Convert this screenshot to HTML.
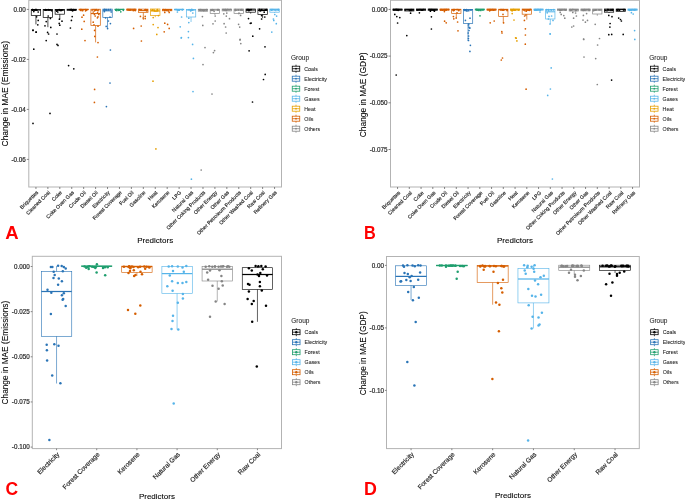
<!DOCTYPE html>
<html><head><meta charset="utf-8"><style>
html,body{margin:0;padding:0;background:#fff;}
svg{display:block;will-change:transform;}
text{font-family:"Liberation Sans", sans-serif;}
</style></head><body>
<svg width="685" height="500" viewBox="0 0 685 500">
<rect width="685" height="500" fill="#fff"/>
<rect x="28.80" y="0.30" width="252.70" height="186.70" stroke="#b3b3b3" stroke-width="1" fill="none"/>
<line x1="26.80" y1="9.40" x2="28.80" y2="9.40" stroke="#555" stroke-width="0.7"/>
<text x="25.80" y="11.61" font-size="6.3" fill="#2a2a2a" stroke="#2a2a2a" stroke-width="0.2" text-anchor="end" font-weight="normal" >0.00</text>
<line x1="26.80" y1="59.40" x2="28.80" y2="59.40" stroke="#555" stroke-width="0.7"/>
<text x="25.80" y="61.60" font-size="6.3" fill="#2a2a2a" stroke="#2a2a2a" stroke-width="0.2" text-anchor="end" font-weight="normal" >-0.02</text>
<line x1="26.80" y1="109.40" x2="28.80" y2="109.40" stroke="#555" stroke-width="0.7"/>
<text x="25.80" y="111.61" font-size="6.3" fill="#2a2a2a" stroke="#2a2a2a" stroke-width="0.2" text-anchor="end" font-weight="normal" >-0.04</text>
<line x1="26.80" y1="159.40" x2="28.80" y2="159.40" stroke="#555" stroke-width="0.7"/>
<text x="25.80" y="161.61" font-size="6.3" fill="#2a2a2a" stroke="#2a2a2a" stroke-width="0.2" text-anchor="end" font-weight="normal" >-0.06</text>
<line x1="35.95" y1="187.00" x2="35.95" y2="189.00" stroke="#555" stroke-width="0.7"/>
<text transform="translate(38.55,192.90) rotate(-45)" font-size="5.2" fill="#2a2a2a" stroke="#2a2a2a" stroke-width="0.18" text-anchor="end">Briquettes</text>
<line x1="47.88" y1="187.00" x2="47.88" y2="189.00" stroke="#555" stroke-width="0.7"/>
<text transform="translate(50.48,192.90) rotate(-45)" font-size="5.2" fill="#2a2a2a" stroke="#2a2a2a" stroke-width="0.18" text-anchor="end">Cleaned Coal</text>
<line x1="59.81" y1="187.00" x2="59.81" y2="189.00" stroke="#555" stroke-width="0.7"/>
<text transform="translate(62.41,192.90) rotate(-45)" font-size="5.2" fill="#2a2a2a" stroke="#2a2a2a" stroke-width="0.18" text-anchor="end">Coke</text>
<line x1="71.74" y1="187.00" x2="71.74" y2="189.00" stroke="#555" stroke-width="0.7"/>
<text transform="translate(74.34,192.90) rotate(-45)" font-size="5.2" fill="#2a2a2a" stroke="#2a2a2a" stroke-width="0.18" text-anchor="end">Coke Oven Gas</text>
<line x1="83.67" y1="187.00" x2="83.67" y2="189.00" stroke="#555" stroke-width="0.7"/>
<text transform="translate(86.27,192.90) rotate(-45)" font-size="5.2" fill="#2a2a2a" stroke="#2a2a2a" stroke-width="0.18" text-anchor="end">Crude Oil</text>
<line x1="95.60" y1="187.00" x2="95.60" y2="189.00" stroke="#555" stroke-width="0.7"/>
<text transform="translate(98.20,192.90) rotate(-45)" font-size="5.2" fill="#2a2a2a" stroke="#2a2a2a" stroke-width="0.18" text-anchor="end">Diesel Oil</text>
<line x1="107.53" y1="187.00" x2="107.53" y2="189.00" stroke="#555" stroke-width="0.7"/>
<text transform="translate(110.13,192.90) rotate(-45)" font-size="5.2" fill="#2a2a2a" stroke="#2a2a2a" stroke-width="0.18" text-anchor="end">Electricity</text>
<line x1="119.46" y1="187.00" x2="119.46" y2="189.00" stroke="#555" stroke-width="0.7"/>
<text transform="translate(122.06,192.90) rotate(-45)" font-size="5.2" fill="#2a2a2a" stroke="#2a2a2a" stroke-width="0.18" text-anchor="end">Forest Coverage</text>
<line x1="131.39" y1="187.00" x2="131.39" y2="189.00" stroke="#555" stroke-width="0.7"/>
<text transform="translate(133.99,192.90) rotate(-45)" font-size="5.2" fill="#2a2a2a" stroke="#2a2a2a" stroke-width="0.18" text-anchor="end">Fuel Oil</text>
<line x1="143.32" y1="187.00" x2="143.32" y2="189.00" stroke="#555" stroke-width="0.7"/>
<text transform="translate(145.92,192.90) rotate(-45)" font-size="5.2" fill="#2a2a2a" stroke="#2a2a2a" stroke-width="0.18" text-anchor="end">Gasoline</text>
<line x1="155.25" y1="187.00" x2="155.25" y2="189.00" stroke="#555" stroke-width="0.7"/>
<text transform="translate(157.85,192.90) rotate(-45)" font-size="5.2" fill="#2a2a2a" stroke="#2a2a2a" stroke-width="0.18" text-anchor="end">Heat</text>
<line x1="167.18" y1="187.00" x2="167.18" y2="189.00" stroke="#555" stroke-width="0.7"/>
<text transform="translate(169.78,192.90) rotate(-45)" font-size="5.2" fill="#2a2a2a" stroke="#2a2a2a" stroke-width="0.18" text-anchor="end">Kerosene</text>
<line x1="179.11" y1="187.00" x2="179.11" y2="189.00" stroke="#555" stroke-width="0.7"/>
<text transform="translate(181.71,192.90) rotate(-45)" font-size="5.2" fill="#2a2a2a" stroke="#2a2a2a" stroke-width="0.18" text-anchor="end">LPG</text>
<line x1="191.04" y1="187.00" x2="191.04" y2="189.00" stroke="#555" stroke-width="0.7"/>
<text transform="translate(193.64,192.90) rotate(-45)" font-size="5.2" fill="#2a2a2a" stroke="#2a2a2a" stroke-width="0.18" text-anchor="end">Natural Gas</text>
<line x1="202.97" y1="187.00" x2="202.97" y2="189.00" stroke="#555" stroke-width="0.7"/>
<text transform="translate(205.57,192.90) rotate(-45)" font-size="5.2" fill="#2a2a2a" stroke="#2a2a2a" stroke-width="0.18" text-anchor="end">Other Coking Products</text>
<line x1="214.90" y1="187.00" x2="214.90" y2="189.00" stroke="#555" stroke-width="0.7"/>
<text transform="translate(217.50,192.90) rotate(-45)" font-size="5.2" fill="#2a2a2a" stroke="#2a2a2a" stroke-width="0.18" text-anchor="end">Other Energy</text>
<line x1="226.83" y1="187.00" x2="226.83" y2="189.00" stroke="#555" stroke-width="0.7"/>
<text transform="translate(229.43,192.90) rotate(-45)" font-size="5.2" fill="#2a2a2a" stroke="#2a2a2a" stroke-width="0.18" text-anchor="end">Other Gas</text>
<line x1="238.76" y1="187.00" x2="238.76" y2="189.00" stroke="#555" stroke-width="0.7"/>
<text transform="translate(241.36,192.90) rotate(-45)" font-size="5.2" fill="#2a2a2a" stroke="#2a2a2a" stroke-width="0.18" text-anchor="end">Other Petroleum Products</text>
<line x1="250.69" y1="187.00" x2="250.69" y2="189.00" stroke="#555" stroke-width="0.7"/>
<text transform="translate(253.29,192.90) rotate(-45)" font-size="5.2" fill="#2a2a2a" stroke="#2a2a2a" stroke-width="0.18" text-anchor="end">Other Washed Coal</text>
<line x1="262.62" y1="187.00" x2="262.62" y2="189.00" stroke="#555" stroke-width="0.7"/>
<text transform="translate(265.22,192.90) rotate(-45)" font-size="5.2" fill="#2a2a2a" stroke="#2a2a2a" stroke-width="0.18" text-anchor="end">Raw Coal</text>
<line x1="274.55" y1="187.00" x2="274.55" y2="189.00" stroke="#555" stroke-width="0.7"/>
<text transform="translate(277.15,192.90) rotate(-45)" font-size="5.2" fill="#2a2a2a" stroke="#2a2a2a" stroke-width="0.18" text-anchor="end">Refinery Gas</text>
<line x1="35.95" y1="15.60" x2="35.95" y2="24.40" stroke="#000000" stroke-width="0.7"/>
<rect x="31.25" y="9.60" width="9.40" height="6.00" stroke="#000000" stroke-width="0.7" fill="none"/>
<line x1="31.25" y1="10.00" x2="40.65" y2="10.00" stroke="#000000" stroke-width="1.0499999999999998"/>
<circle cx="34.56" cy="10.01" r="0.85" fill="#000000"/>
<circle cx="32.58" cy="10.21" r="0.85" fill="#000000"/>
<circle cx="36.23" cy="9.64" r="0.85" fill="#000000"/>
<circle cx="36.01" cy="9.65" r="0.85" fill="#000000"/>
<circle cx="32.31" cy="9.71" r="0.85" fill="#000000"/>
<circle cx="32.73" cy="9.59" r="0.85" fill="#000000"/>
<circle cx="35.36" cy="9.64" r="0.85" fill="#000000"/>
<circle cx="33.77" cy="9.77" r="0.85" fill="#000000"/>
<circle cx="36.95" cy="10.25" r="0.85" fill="#000000"/>
<circle cx="35.14" cy="9.75" r="0.85" fill="#000000"/>
<line x1="47.88" y1="17.40" x2="47.88" y2="27.20" stroke="#000000" stroke-width="0.7"/>
<rect x="43.18" y="9.60" width="9.40" height="7.80" stroke="#000000" stroke-width="0.7" fill="none"/>
<line x1="43.18" y1="10.00" x2="52.58" y2="10.00" stroke="#000000" stroke-width="1.0499999999999998"/>
<circle cx="51.63" cy="10.64" r="0.85" fill="#000000"/>
<circle cx="46.22" cy="9.84" r="0.85" fill="#000000"/>
<circle cx="45.08" cy="9.88" r="0.85" fill="#000000"/>
<circle cx="50.37" cy="9.85" r="0.85" fill="#000000"/>
<circle cx="45.37" cy="10.25" r="0.85" fill="#000000"/>
<circle cx="46.88" cy="9.92" r="0.85" fill="#000000"/>
<circle cx="48.26" cy="9.69" r="0.85" fill="#000000"/>
<circle cx="45.56" cy="9.58" r="0.85" fill="#000000"/>
<circle cx="49.30" cy="9.97" r="0.85" fill="#000000"/>
<circle cx="48.55" cy="9.73" r="0.85" fill="#000000"/>
<line x1="59.81" y1="14.20" x2="59.81" y2="19.20" stroke="#000000" stroke-width="0.7"/>
<rect x="55.11" y="9.40" width="9.40" height="4.80" stroke="#000000" stroke-width="0.7" fill="none"/>
<line x1="55.11" y1="10.00" x2="64.51" y2="10.00" stroke="#000000" stroke-width="1.0499999999999998"/>
<circle cx="59.44" cy="9.83" r="0.85" fill="#000000"/>
<circle cx="61.38" cy="10.52" r="0.85" fill="#000000"/>
<circle cx="57.80" cy="10.15" r="0.85" fill="#000000"/>
<circle cx="62.76" cy="9.83" r="0.85" fill="#000000"/>
<circle cx="61.62" cy="9.90" r="0.85" fill="#000000"/>
<circle cx="56.80" cy="11.13" r="0.85" fill="#000000"/>
<circle cx="59.17" cy="9.52" r="0.85" fill="#000000"/>
<circle cx="59.72" cy="9.84" r="0.85" fill="#000000"/>
<circle cx="56.18" cy="10.00" r="0.85" fill="#000000"/>
<circle cx="60.38" cy="10.39" r="0.85" fill="#000000"/>
<line x1="71.74" y1="10.40" x2="71.74" y2="10.80" stroke="#000000" stroke-width="0.7"/>
<rect x="67.04" y="9.20" width="9.40" height="1.20" stroke="#000000" stroke-width="0.7" fill="none"/>
<line x1="67.04" y1="9.60" x2="76.44" y2="9.60" stroke="#000000" stroke-width="1.0499999999999998"/>
<circle cx="74.70" cy="9.86" r="0.85" fill="#000000"/>
<circle cx="72.48" cy="10.35" r="0.85" fill="#000000"/>
<circle cx="72.37" cy="10.61" r="0.85" fill="#000000"/>
<circle cx="75.24" cy="9.81" r="0.85" fill="#000000"/>
<circle cx="71.54" cy="9.61" r="0.85" fill="#000000"/>
<circle cx="73.33" cy="9.68" r="0.85" fill="#000000"/>
<circle cx="72.90" cy="10.61" r="0.85" fill="#000000"/>
<circle cx="70.04" cy="9.55" r="0.85" fill="#000000"/>
<circle cx="70.84" cy="9.56" r="0.85" fill="#000000"/>
<circle cx="71.44" cy="9.61" r="0.85" fill="#000000"/>
<line x1="83.67" y1="9.80" x2="83.67" y2="10.00" stroke="#d55e00" stroke-width="0.7"/>
<rect x="78.97" y="9.20" width="9.40" height="0.60" stroke="#d55e00" stroke-width="0.7" fill="none"/>
<line x1="78.97" y1="9.40" x2="88.37" y2="9.40" stroke="#d55e00" stroke-width="1.0499999999999998"/>
<circle cx="81.06" cy="9.66" r="0.85" fill="#d55e00"/>
<circle cx="85.78" cy="9.64" r="0.85" fill="#d55e00"/>
<circle cx="80.75" cy="9.51" r="0.85" fill="#d55e00"/>
<circle cx="86.59" cy="10.10" r="0.85" fill="#d55e00"/>
<circle cx="80.37" cy="10.22" r="0.85" fill="#d55e00"/>
<circle cx="86.69" cy="9.74" r="0.85" fill="#d55e00"/>
<circle cx="86.18" cy="9.82" r="0.85" fill="#d55e00"/>
<circle cx="83.00" cy="9.87" r="0.85" fill="#d55e00"/>
<circle cx="82.56" cy="10.63" r="0.85" fill="#d55e00"/>
<circle cx="80.92" cy="10.50" r="0.85" fill="#d55e00"/>
<line x1="95.60" y1="25.50" x2="95.60" y2="42.40" stroke="#d55e00" stroke-width="0.7"/>
<rect x="90.90" y="9.20" width="9.40" height="16.30" stroke="#d55e00" stroke-width="0.7" fill="none"/>
<line x1="90.90" y1="13.60" x2="100.30" y2="13.60" stroke="#d55e00" stroke-width="1.0499999999999998"/>
<circle cx="93.05" cy="9.55" r="0.85" fill="#d55e00"/>
<circle cx="95.48" cy="9.93" r="0.85" fill="#d55e00"/>
<circle cx="96.30" cy="9.50" r="0.85" fill="#d55e00"/>
<circle cx="94.96" cy="9.55" r="0.85" fill="#d55e00"/>
<circle cx="94.57" cy="10.86" r="0.85" fill="#d55e00"/>
<circle cx="97.10" cy="10.10" r="0.85" fill="#d55e00"/>
<circle cx="95.72" cy="10.17" r="0.85" fill="#d55e00"/>
<circle cx="92.09" cy="10.11" r="0.85" fill="#d55e00"/>
<circle cx="98.75" cy="9.73" r="0.85" fill="#d55e00"/>
<circle cx="97.95" cy="10.70" r="0.85" fill="#d55e00"/>
<line x1="107.53" y1="17.40" x2="107.53" y2="28.80" stroke="#2a74b6" stroke-width="0.7"/>
<rect x="102.83" y="9.10" width="9.40" height="8.30" stroke="#2a74b6" stroke-width="0.7" fill="none"/>
<line x1="102.83" y1="10.80" x2="112.23" y2="10.80" stroke="#2a74b6" stroke-width="1.0499999999999998"/>
<circle cx="106.68" cy="9.73" r="0.85" fill="#2a74b6"/>
<circle cx="108.59" cy="9.67" r="0.85" fill="#2a74b6"/>
<circle cx="104.08" cy="9.87" r="0.85" fill="#2a74b6"/>
<circle cx="104.87" cy="9.67" r="0.85" fill="#2a74b6"/>
<circle cx="106.27" cy="9.51" r="0.85" fill="#2a74b6"/>
<circle cx="104.78" cy="9.50" r="0.85" fill="#2a74b6"/>
<circle cx="104.39" cy="9.59" r="0.85" fill="#2a74b6"/>
<circle cx="110.48" cy="9.60" r="0.85" fill="#2a74b6"/>
<circle cx="108.43" cy="9.77" r="0.85" fill="#2a74b6"/>
<circle cx="106.33" cy="9.87" r="0.85" fill="#2a74b6"/>
<line x1="119.46" y1="9.60" x2="119.46" y2="9.80" stroke="#1f9e6e" stroke-width="0.7"/>
<rect x="114.76" y="9.20" width="9.40" height="0.40" stroke="#1f9e6e" stroke-width="0.7" fill="none"/>
<line x1="114.76" y1="9.40" x2="124.16" y2="9.40" stroke="#1f9e6e" stroke-width="1.0499999999999998"/>
<circle cx="118.39" cy="10.34" r="0.85" fill="#1f9e6e"/>
<circle cx="123.34" cy="10.31" r="0.85" fill="#1f9e6e"/>
<circle cx="119.19" cy="9.75" r="0.85" fill="#1f9e6e"/>
<circle cx="116.33" cy="9.53" r="0.85" fill="#1f9e6e"/>
<circle cx="118.22" cy="9.60" r="0.85" fill="#1f9e6e"/>
<circle cx="116.79" cy="10.62" r="0.85" fill="#1f9e6e"/>
<circle cx="115.70" cy="10.20" r="0.85" fill="#1f9e6e"/>
<circle cx="116.68" cy="9.72" r="0.85" fill="#1f9e6e"/>
<circle cx="119.80" cy="10.22" r="0.85" fill="#1f9e6e"/>
<circle cx="123.23" cy="9.62" r="0.85" fill="#1f9e6e"/>
<line x1="131.39" y1="10.60" x2="131.39" y2="10.80" stroke="#d55e00" stroke-width="0.7"/>
<rect x="126.69" y="9.00" width="9.40" height="1.60" stroke="#d55e00" stroke-width="0.7" fill="none"/>
<line x1="126.69" y1="9.40" x2="136.09" y2="9.40" stroke="#d55e00" stroke-width="1.0499999999999998"/>
<circle cx="134.25" cy="9.65" r="0.85" fill="#d55e00"/>
<circle cx="130.34" cy="9.94" r="0.85" fill="#d55e00"/>
<circle cx="128.77" cy="9.60" r="0.85" fill="#d55e00"/>
<circle cx="133.59" cy="10.23" r="0.85" fill="#d55e00"/>
<circle cx="130.05" cy="9.68" r="0.85" fill="#d55e00"/>
<circle cx="135.21" cy="10.58" r="0.85" fill="#d55e00"/>
<circle cx="134.17" cy="9.88" r="0.85" fill="#d55e00"/>
<circle cx="133.28" cy="10.54" r="0.85" fill="#d55e00"/>
<circle cx="129.24" cy="10.06" r="0.85" fill="#d55e00"/>
<circle cx="127.68" cy="9.56" r="0.85" fill="#d55e00"/>
<line x1="143.32" y1="12.60" x2="143.32" y2="20.00" stroke="#d55e00" stroke-width="0.7"/>
<rect x="138.62" y="9.10" width="9.40" height="3.50" stroke="#d55e00" stroke-width="0.7" fill="none"/>
<line x1="138.62" y1="10.60" x2="148.02" y2="10.60" stroke="#d55e00" stroke-width="1.0499999999999998"/>
<circle cx="139.60" cy="9.59" r="0.85" fill="#d55e00"/>
<circle cx="144.84" cy="9.96" r="0.85" fill="#d55e00"/>
<circle cx="146.91" cy="10.83" r="0.85" fill="#d55e00"/>
<circle cx="147.16" cy="9.96" r="0.85" fill="#d55e00"/>
<circle cx="146.90" cy="9.78" r="0.85" fill="#d55e00"/>
<circle cx="141.17" cy="9.82" r="0.85" fill="#d55e00"/>
<circle cx="140.93" cy="9.74" r="0.85" fill="#d55e00"/>
<circle cx="146.47" cy="10.31" r="0.85" fill="#d55e00"/>
<circle cx="146.00" cy="10.37" r="0.85" fill="#d55e00"/>
<circle cx="145.68" cy="9.61" r="0.85" fill="#d55e00"/>
<line x1="155.25" y1="15.50" x2="155.25" y2="17.20" stroke="#e69f00" stroke-width="0.7"/>
<rect x="150.55" y="9.00" width="9.40" height="6.50" stroke="#e69f00" stroke-width="0.7" fill="none"/>
<line x1="150.55" y1="11.00" x2="159.95" y2="11.00" stroke="#e69f00" stroke-width="1.0499999999999998"/>
<circle cx="151.98" cy="10.20" r="0.85" fill="#e69f00"/>
<circle cx="157.47" cy="10.61" r="0.85" fill="#e69f00"/>
<circle cx="157.22" cy="9.87" r="0.85" fill="#e69f00"/>
<circle cx="157.53" cy="9.55" r="0.85" fill="#e69f00"/>
<circle cx="153.93" cy="10.00" r="0.85" fill="#e69f00"/>
<circle cx="154.43" cy="11.02" r="0.85" fill="#e69f00"/>
<circle cx="154.47" cy="10.41" r="0.85" fill="#e69f00"/>
<circle cx="152.65" cy="9.82" r="0.85" fill="#e69f00"/>
<circle cx="152.31" cy="10.26" r="0.85" fill="#e69f00"/>
<circle cx="157.66" cy="10.56" r="0.85" fill="#e69f00"/>
<line x1="167.18" y1="10.80" x2="167.18" y2="11.00" stroke="#d55e00" stroke-width="0.7"/>
<rect x="162.48" y="9.20" width="9.40" height="1.60" stroke="#d55e00" stroke-width="0.7" fill="none"/>
<line x1="162.48" y1="9.60" x2="171.88" y2="9.60" stroke="#d55e00" stroke-width="1.0499999999999998"/>
<circle cx="164.39" cy="10.28" r="0.85" fill="#d55e00"/>
<circle cx="168.42" cy="10.99" r="0.85" fill="#d55e00"/>
<circle cx="166.00" cy="9.80" r="0.85" fill="#d55e00"/>
<circle cx="163.36" cy="9.60" r="0.85" fill="#d55e00"/>
<circle cx="170.89" cy="9.93" r="0.85" fill="#d55e00"/>
<circle cx="170.59" cy="10.09" r="0.85" fill="#d55e00"/>
<circle cx="166.66" cy="10.28" r="0.85" fill="#d55e00"/>
<circle cx="164.90" cy="10.31" r="0.85" fill="#d55e00"/>
<circle cx="165.23" cy="9.62" r="0.85" fill="#d55e00"/>
<circle cx="167.86" cy="9.93" r="0.85" fill="#d55e00"/>
<line x1="179.11" y1="9.80" x2="179.11" y2="10.00" stroke="#56b4e9" stroke-width="0.7"/>
<rect x="174.41" y="9.20" width="9.40" height="0.60" stroke="#56b4e9" stroke-width="0.7" fill="none"/>
<line x1="174.41" y1="9.40" x2="183.81" y2="9.40" stroke="#56b4e9" stroke-width="1.0499999999999998"/>
<circle cx="177.22" cy="9.78" r="0.85" fill="#56b4e9"/>
<circle cx="182.34" cy="9.65" r="0.85" fill="#56b4e9"/>
<circle cx="177.96" cy="10.27" r="0.85" fill="#56b4e9"/>
<circle cx="182.29" cy="9.71" r="0.85" fill="#56b4e9"/>
<circle cx="178.49" cy="10.12" r="0.85" fill="#56b4e9"/>
<circle cx="179.36" cy="9.85" r="0.85" fill="#56b4e9"/>
<circle cx="179.30" cy="10.14" r="0.85" fill="#56b4e9"/>
<circle cx="176.61" cy="9.58" r="0.85" fill="#56b4e9"/>
<circle cx="175.20" cy="9.61" r="0.85" fill="#56b4e9"/>
<circle cx="178.90" cy="9.85" r="0.85" fill="#56b4e9"/>
<line x1="191.04" y1="17.00" x2="191.04" y2="22.00" stroke="#56b4e9" stroke-width="0.7"/>
<rect x="186.34" y="9.40" width="9.40" height="7.60" stroke="#56b4e9" stroke-width="0.7" fill="none"/>
<line x1="186.34" y1="10.00" x2="195.74" y2="10.00" stroke="#56b4e9" stroke-width="1.0499999999999998"/>
<circle cx="192.81" cy="10.00" r="0.85" fill="#56b4e9"/>
<circle cx="191.18" cy="9.69" r="0.85" fill="#56b4e9"/>
<circle cx="191.48" cy="9.56" r="0.85" fill="#56b4e9"/>
<circle cx="191.51" cy="9.78" r="0.85" fill="#56b4e9"/>
<circle cx="189.06" cy="9.67" r="0.85" fill="#56b4e9"/>
<circle cx="191.10" cy="10.52" r="0.85" fill="#56b4e9"/>
<circle cx="191.53" cy="9.58" r="0.85" fill="#56b4e9"/>
<circle cx="190.59" cy="10.82" r="0.85" fill="#56b4e9"/>
<circle cx="191.93" cy="10.22" r="0.85" fill="#56b4e9"/>
<circle cx="192.56" cy="9.53" r="0.85" fill="#56b4e9"/>
<line x1="202.97" y1="11.20" x2="202.97" y2="11.40" stroke="#858585" stroke-width="0.7"/>
<rect x="198.27" y="9.20" width="9.40" height="2.00" stroke="#858585" stroke-width="0.7" fill="none"/>
<line x1="198.27" y1="9.60" x2="207.67" y2="9.60" stroke="#858585" stroke-width="1.0499999999999998"/>
<circle cx="202.59" cy="10.17" r="0.85" fill="#858585"/>
<circle cx="206.45" cy="9.64" r="0.85" fill="#858585"/>
<circle cx="204.54" cy="10.52" r="0.85" fill="#858585"/>
<circle cx="201.08" cy="10.50" r="0.85" fill="#858585"/>
<circle cx="203.44" cy="10.58" r="0.85" fill="#858585"/>
<circle cx="200.11" cy="9.90" r="0.85" fill="#858585"/>
<circle cx="199.99" cy="9.72" r="0.85" fill="#858585"/>
<circle cx="200.93" cy="9.58" r="0.85" fill="#858585"/>
<circle cx="199.61" cy="10.01" r="0.85" fill="#858585"/>
<circle cx="206.10" cy="10.42" r="0.85" fill="#858585"/>
<line x1="214.90" y1="13.40" x2="214.90" y2="15.00" stroke="#858585" stroke-width="0.7"/>
<rect x="210.20" y="9.20" width="9.40" height="4.20" stroke="#858585" stroke-width="0.7" fill="none"/>
<line x1="210.20" y1="10.00" x2="219.60" y2="10.00" stroke="#858585" stroke-width="1.0499999999999998"/>
<circle cx="212.18" cy="9.69" r="0.85" fill="#858585"/>
<circle cx="212.09" cy="10.36" r="0.85" fill="#858585"/>
<circle cx="217.91" cy="9.91" r="0.85" fill="#858585"/>
<circle cx="218.46" cy="9.59" r="0.85" fill="#858585"/>
<circle cx="214.10" cy="11.31" r="0.85" fill="#858585"/>
<circle cx="217.52" cy="9.65" r="0.85" fill="#858585"/>
<circle cx="212.23" cy="10.16" r="0.85" fill="#858585"/>
<circle cx="213.63" cy="9.80" r="0.85" fill="#858585"/>
<circle cx="212.50" cy="9.90" r="0.85" fill="#858585"/>
<circle cx="211.12" cy="10.37" r="0.85" fill="#858585"/>
<line x1="226.83" y1="10.90" x2="226.83" y2="11.00" stroke="#858585" stroke-width="0.7"/>
<rect x="222.13" y="9.00" width="9.40" height="1.90" stroke="#858585" stroke-width="0.7" fill="none"/>
<line x1="222.13" y1="9.60" x2="231.53" y2="9.60" stroke="#858585" stroke-width="1.0499999999999998"/>
<circle cx="227.26" cy="9.61" r="0.85" fill="#858585"/>
<circle cx="225.50" cy="9.54" r="0.85" fill="#858585"/>
<circle cx="227.81" cy="9.72" r="0.85" fill="#858585"/>
<circle cx="230.65" cy="9.52" r="0.85" fill="#858585"/>
<circle cx="229.10" cy="9.78" r="0.85" fill="#858585"/>
<circle cx="224.98" cy="9.55" r="0.85" fill="#858585"/>
<circle cx="223.20" cy="9.59" r="0.85" fill="#858585"/>
<circle cx="223.91" cy="9.97" r="0.85" fill="#858585"/>
<circle cx="226.22" cy="10.44" r="0.85" fill="#858585"/>
<circle cx="224.93" cy="10.09" r="0.85" fill="#858585"/>
<line x1="238.76" y1="13.60" x2="238.76" y2="14.50" stroke="#858585" stroke-width="0.7"/>
<rect x="234.06" y="9.00" width="9.40" height="4.60" stroke="#858585" stroke-width="0.7" fill="none"/>
<line x1="234.06" y1="10.00" x2="243.46" y2="10.00" stroke="#858585" stroke-width="1.0499999999999998"/>
<circle cx="236.00" cy="10.18" r="0.85" fill="#858585"/>
<circle cx="240.34" cy="9.88" r="0.85" fill="#858585"/>
<circle cx="235.53" cy="10.36" r="0.85" fill="#858585"/>
<circle cx="238.17" cy="9.82" r="0.85" fill="#858585"/>
<circle cx="235.39" cy="10.29" r="0.85" fill="#858585"/>
<circle cx="241.13" cy="9.82" r="0.85" fill="#858585"/>
<circle cx="235.48" cy="9.64" r="0.85" fill="#858585"/>
<circle cx="241.62" cy="9.67" r="0.85" fill="#858585"/>
<circle cx="238.40" cy="9.90" r="0.85" fill="#858585"/>
<circle cx="242.12" cy="10.15" r="0.85" fill="#858585"/>
<line x1="250.69" y1="12.20" x2="250.69" y2="13.60" stroke="#000000" stroke-width="0.7"/>
<rect x="245.99" y="9.00" width="9.40" height="3.20" stroke="#000000" stroke-width="0.7" fill="none"/>
<line x1="245.99" y1="10.00" x2="255.39" y2="10.00" stroke="#000000" stroke-width="1.0499999999999998"/>
<circle cx="248.86" cy="10.01" r="0.85" fill="#000000"/>
<circle cx="248.63" cy="10.03" r="0.85" fill="#000000"/>
<circle cx="247.61" cy="9.60" r="0.85" fill="#000000"/>
<circle cx="248.34" cy="9.66" r="0.85" fill="#000000"/>
<circle cx="249.21" cy="9.84" r="0.85" fill="#000000"/>
<circle cx="249.04" cy="10.45" r="0.85" fill="#000000"/>
<circle cx="250.69" cy="9.74" r="0.85" fill="#000000"/>
<circle cx="246.90" cy="10.00" r="0.85" fill="#000000"/>
<circle cx="248.73" cy="10.47" r="0.85" fill="#000000"/>
<circle cx="251.09" cy="9.59" r="0.85" fill="#000000"/>
<line x1="262.62" y1="14.50" x2="262.62" y2="18.10" stroke="#000000" stroke-width="0.7"/>
<rect x="257.92" y="9.00" width="9.40" height="5.50" stroke="#000000" stroke-width="0.7" fill="none"/>
<line x1="257.92" y1="10.40" x2="267.32" y2="10.40" stroke="#000000" stroke-width="1.0499999999999998"/>
<circle cx="260.17" cy="10.88" r="0.85" fill="#000000"/>
<circle cx="259.52" cy="9.72" r="0.85" fill="#000000"/>
<circle cx="265.13" cy="10.14" r="0.85" fill="#000000"/>
<circle cx="265.25" cy="9.79" r="0.85" fill="#000000"/>
<circle cx="261.78" cy="10.41" r="0.85" fill="#000000"/>
<circle cx="266.42" cy="9.54" r="0.85" fill="#000000"/>
<circle cx="261.38" cy="9.96" r="0.85" fill="#000000"/>
<circle cx="263.69" cy="10.32" r="0.85" fill="#000000"/>
<circle cx="261.87" cy="9.62" r="0.85" fill="#000000"/>
<circle cx="259.71" cy="9.66" r="0.85" fill="#000000"/>
<line x1="274.55" y1="12.20" x2="274.55" y2="13.00" stroke="#56b4e9" stroke-width="0.7"/>
<rect x="269.85" y="9.00" width="9.40" height="3.20" stroke="#56b4e9" stroke-width="0.7" fill="none"/>
<line x1="269.85" y1="9.60" x2="279.25" y2="9.60" stroke="#56b4e9" stroke-width="1.0499999999999998"/>
<circle cx="271.17" cy="9.53" r="0.85" fill="#56b4e9"/>
<circle cx="271.90" cy="9.96" r="0.85" fill="#56b4e9"/>
<circle cx="271.28" cy="10.16" r="0.85" fill="#56b4e9"/>
<circle cx="275.89" cy="10.52" r="0.85" fill="#56b4e9"/>
<circle cx="272.83" cy="9.52" r="0.85" fill="#56b4e9"/>
<circle cx="274.23" cy="10.00" r="0.85" fill="#56b4e9"/>
<circle cx="271.85" cy="9.94" r="0.85" fill="#56b4e9"/>
<circle cx="278.19" cy="9.66" r="0.85" fill="#56b4e9"/>
<circle cx="278.27" cy="9.93" r="0.85" fill="#56b4e9"/>
<circle cx="278.22" cy="9.63" r="0.85" fill="#56b4e9"/>
<circle cx="33.80" cy="11.60" r="0.85" fill="#000000"/>
<circle cx="38.20" cy="12.00" r="0.85" fill="#000000"/>
<circle cx="36.60" cy="16.80" r="0.85" fill="#000000"/>
<circle cx="38.20" cy="20.40" r="0.85" fill="#000000"/>
<circle cx="37.80" cy="24.80" r="0.85" fill="#000000"/>
<circle cx="33.00" cy="30.20" r="0.85" fill="#000000"/>
<circle cx="36.20" cy="32.20" r="0.85" fill="#000000"/>
<circle cx="33.00" cy="30.40" r="0.85" fill="#000000"/>
<circle cx="36.00" cy="32.00" r="0.85" fill="#000000"/>
<circle cx="33.80" cy="49.20" r="0.85" fill="#000000"/>
<circle cx="33.00" cy="123.40" r="0.85" fill="#000000"/>
<circle cx="48.20" cy="16.00" r="0.85" fill="#000000"/>
<circle cx="50.40" cy="18.40" r="0.85" fill="#000000"/>
<circle cx="46.20" cy="21.60" r="0.85" fill="#000000"/>
<circle cx="45.00" cy="25.80" r="0.85" fill="#000000"/>
<circle cx="50.80" cy="27.40" r="0.85" fill="#000000"/>
<circle cx="47.60" cy="32.40" r="0.85" fill="#000000"/>
<circle cx="48.60" cy="34.00" r="0.85" fill="#000000"/>
<circle cx="46.20" cy="40.60" r="0.85" fill="#000000"/>
<circle cx="50.00" cy="113.40" r="0.85" fill="#000000"/>
<circle cx="57.80" cy="12.00" r="0.85" fill="#000000"/>
<circle cx="59.40" cy="19.20" r="0.85" fill="#000000"/>
<circle cx="62.00" cy="21.20" r="0.85" fill="#000000"/>
<circle cx="59.20" cy="23.40" r="0.85" fill="#000000"/>
<circle cx="59.80" cy="25.20" r="0.85" fill="#000000"/>
<circle cx="57.00" cy="34.00" r="0.85" fill="#000000"/>
<circle cx="57.00" cy="44.40" r="0.85" fill="#000000"/>
<circle cx="58.00" cy="45.40" r="0.85" fill="#000000"/>
<circle cx="72.20" cy="16.60" r="0.85" fill="#000000"/>
<circle cx="71.40" cy="20.40" r="0.85" fill="#000000"/>
<circle cx="70.40" cy="28.00" r="0.85" fill="#000000"/>
<circle cx="68.60" cy="65.60" r="0.85" fill="#000000"/>
<circle cx="73.80" cy="68.80" r="0.85" fill="#000000"/>
<circle cx="85.60" cy="10.80" r="0.85" fill="#d55e00"/>
<circle cx="83.60" cy="15.20" r="0.85" fill="#d55e00"/>
<circle cx="82.00" cy="17.20" r="0.85" fill="#d55e00"/>
<circle cx="84.20" cy="21.40" r="0.85" fill="#d55e00"/>
<circle cx="81.80" cy="29.20" r="0.85" fill="#d55e00"/>
<circle cx="93.20" cy="12.00" r="0.85" fill="#d55e00"/>
<circle cx="97.60" cy="12.80" r="0.85" fill="#d55e00"/>
<circle cx="94.40" cy="14.40" r="0.85" fill="#d55e00"/>
<circle cx="98.80" cy="14.40" r="0.85" fill="#d55e00"/>
<circle cx="95.20" cy="16.00" r="0.85" fill="#d55e00"/>
<circle cx="98.00" cy="16.80" r="0.85" fill="#d55e00"/>
<circle cx="97.40" cy="17.80" r="0.85" fill="#d55e00"/>
<circle cx="93.20" cy="22.20" r="0.85" fill="#d55e00"/>
<circle cx="94.00" cy="24.80" r="0.85" fill="#d55e00"/>
<circle cx="98.00" cy="26.20" r="0.85" fill="#d55e00"/>
<circle cx="94.60" cy="30.40" r="0.85" fill="#d55e00"/>
<circle cx="94.80" cy="36.40" r="0.85" fill="#d55e00"/>
<circle cx="85.00" cy="40.60" r="0.85" fill="#d55e00"/>
<circle cx="98.00" cy="42.60" r="0.85" fill="#d55e00"/>
<circle cx="97.40" cy="57.00" r="0.85" fill="#d55e00"/>
<circle cx="94.60" cy="89.40" r="0.85" fill="#d55e00"/>
<circle cx="94.40" cy="102.40" r="0.85" fill="#d55e00"/>
<circle cx="104.40" cy="11.60" r="0.85" fill="#2a74b6"/>
<circle cx="111.20" cy="12.00" r="0.85" fill="#2a74b6"/>
<circle cx="105.60" cy="17.80" r="0.85" fill="#2a74b6"/>
<circle cx="110.00" cy="17.20" r="0.85" fill="#2a74b6"/>
<circle cx="108.40" cy="21.00" r="0.85" fill="#2a74b6"/>
<circle cx="110.40" cy="23.60" r="0.85" fill="#2a74b6"/>
<circle cx="106.20" cy="26.40" r="0.85" fill="#2a74b6"/>
<circle cx="107.60" cy="28.60" r="0.85" fill="#2a74b6"/>
<circle cx="110.40" cy="50.00" r="0.85" fill="#2a74b6"/>
<circle cx="110.00" cy="83.00" r="0.85" fill="#2a74b6"/>
<circle cx="106.40" cy="106.60" r="0.85" fill="#2a74b6"/>
<circle cx="120.80" cy="11.80" r="0.85" fill="#1f9e6e"/>
<circle cx="133.60" cy="28.40" r="0.85" fill="#d55e00"/>
<circle cx="140.40" cy="16.40" r="0.85" fill="#d55e00"/>
<circle cx="145.20" cy="16.40" r="0.85" fill="#d55e00"/>
<circle cx="143.20" cy="18.00" r="0.85" fill="#d55e00"/>
<circle cx="145.20" cy="18.60" r="0.85" fill="#d55e00"/>
<circle cx="141.20" cy="26.00" r="0.85" fill="#d55e00"/>
<circle cx="141.40" cy="41.00" r="0.85" fill="#d55e00"/>
<circle cx="156.00" cy="11.20" r="0.85" fill="#e69f00"/>
<circle cx="158.40" cy="15.60" r="0.85" fill="#e69f00"/>
<circle cx="153.20" cy="17.60" r="0.85" fill="#e69f00"/>
<circle cx="153.20" cy="24.60" r="0.85" fill="#e69f00"/>
<circle cx="158.00" cy="27.60" r="0.85" fill="#e69f00"/>
<circle cx="156.80" cy="34.40" r="0.85" fill="#e69f00"/>
<circle cx="153.00" cy="81.20" r="0.85" fill="#e69f00"/>
<circle cx="155.90" cy="148.90" r="0.85" fill="#e69f00"/>
<circle cx="164.80" cy="12.40" r="0.85" fill="#d55e00"/>
<circle cx="169.20" cy="12.40" r="0.85" fill="#d55e00"/>
<circle cx="164.80" cy="23.20" r="0.85" fill="#d55e00"/>
<circle cx="167.60" cy="24.40" r="0.85" fill="#d55e00"/>
<circle cx="169.20" cy="28.40" r="0.85" fill="#d55e00"/>
<circle cx="164.20" cy="31.80" r="0.85" fill="#d55e00"/>
<circle cx="177.40" cy="12.00" r="0.85" fill="#56b4e9"/>
<circle cx="181.60" cy="17.00" r="0.85" fill="#56b4e9"/>
<circle cx="180.20" cy="26.80" r="0.85" fill="#56b4e9"/>
<circle cx="181.40" cy="37.60" r="0.85" fill="#56b4e9"/>
<circle cx="181.20" cy="38.00" r="0.85" fill="#56b4e9"/>
<circle cx="192.80" cy="13.00" r="0.85" fill="#56b4e9"/>
<circle cx="188.80" cy="18.20" r="0.85" fill="#56b4e9"/>
<circle cx="188.80" cy="22.60" r="0.85" fill="#56b4e9"/>
<circle cx="188.40" cy="31.60" r="0.85" fill="#56b4e9"/>
<circle cx="188.40" cy="37.60" r="0.85" fill="#56b4e9"/>
<circle cx="192.60" cy="44.40" r="0.85" fill="#56b4e9"/>
<circle cx="193.40" cy="58.40" r="0.85" fill="#56b4e9"/>
<circle cx="193.00" cy="91.60" r="0.85" fill="#56b4e9"/>
<circle cx="191.40" cy="179.20" r="0.85" fill="#56b4e9"/>
<circle cx="202.40" cy="16.60" r="0.85" fill="#858585"/>
<circle cx="202.80" cy="25.40" r="0.85" fill="#858585"/>
<circle cx="205.00" cy="47.60" r="0.85" fill="#858585"/>
<circle cx="203.00" cy="64.60" r="0.85" fill="#858585"/>
<circle cx="201.20" cy="170.00" r="0.85" fill="#858585"/>
<circle cx="215.20" cy="16.00" r="0.85" fill="#858585"/>
<circle cx="215.20" cy="21.00" r="0.85" fill="#858585"/>
<circle cx="213.00" cy="23.80" r="0.85" fill="#858585"/>
<circle cx="214.60" cy="50.60" r="0.85" fill="#858585"/>
<circle cx="213.40" cy="52.60" r="0.85" fill="#858585"/>
<circle cx="212.00" cy="94.00" r="0.85" fill="#858585"/>
<circle cx="223.80" cy="13.80" r="0.85" fill="#858585"/>
<circle cx="226.80" cy="13.10" r="0.85" fill="#858585"/>
<circle cx="226.30" cy="16.10" r="0.85" fill="#858585"/>
<circle cx="229.50" cy="18.70" r="0.85" fill="#858585"/>
<circle cx="224.10" cy="23.70" r="0.85" fill="#858585"/>
<circle cx="225.60" cy="27.00" r="0.85" fill="#858585"/>
<circle cx="226.20" cy="33.00" r="0.85" fill="#858585"/>
<circle cx="239.00" cy="13.10" r="0.85" fill="#858585"/>
<circle cx="240.60" cy="15.40" r="0.85" fill="#858585"/>
<circle cx="238.60" cy="24.30" r="0.85" fill="#858585"/>
<circle cx="239.70" cy="27.10" r="0.85" fill="#858585"/>
<circle cx="240.10" cy="39.40" r="0.85" fill="#858585"/>
<circle cx="240.00" cy="39.90" r="0.85" fill="#858585"/>
<circle cx="240.80" cy="43.60" r="0.85" fill="#858585"/>
<circle cx="248.50" cy="18.60" r="0.85" fill="#000000"/>
<circle cx="250.30" cy="23.30" r="0.85" fill="#000000"/>
<circle cx="251.20" cy="23.10" r="0.85" fill="#000000"/>
<circle cx="252.80" cy="36.20" r="0.85" fill="#000000"/>
<circle cx="249.10" cy="50.80" r="0.85" fill="#000000"/>
<circle cx="252.50" cy="102.00" r="0.85" fill="#000000"/>
<circle cx="264.20" cy="12.20" r="0.85" fill="#000000"/>
<circle cx="261.60" cy="15.60" r="0.85" fill="#000000"/>
<circle cx="264.80" cy="17.00" r="0.85" fill="#000000"/>
<circle cx="261.60" cy="19.00" r="0.85" fill="#000000"/>
<circle cx="259.60" cy="28.80" r="0.85" fill="#000000"/>
<circle cx="265.00" cy="46.80" r="0.85" fill="#000000"/>
<circle cx="265.20" cy="74.40" r="0.85" fill="#000000"/>
<circle cx="263.50" cy="79.50" r="0.85" fill="#000000"/>
<circle cx="274.80" cy="14.50" r="0.85" fill="#56b4e9"/>
<circle cx="276.60" cy="16.10" r="0.85" fill="#56b4e9"/>
<circle cx="273.40" cy="19.00" r="0.85" fill="#56b4e9"/>
<circle cx="273.80" cy="20.40" r="0.85" fill="#56b4e9"/>
<circle cx="276.30" cy="23.70" r="0.85" fill="#56b4e9"/>
<circle cx="271.80" cy="32.10" r="0.85" fill="#56b4e9"/>
<text transform="translate(8.00,93.70) rotate(-90)" font-size="8.45" fill="#000" stroke="#000" stroke-width="0.08" text-anchor="middle">Change in MAE (Emissions)</text>
<text x="155.15" y="243.00" font-size="8.0" fill="#000" stroke="#000" stroke-width="0.08" text-anchor="middle" font-weight="normal" >Predictors</text>
<text transform="translate(5.30,239.00) scale(1.06,1)" font-size="17.5" fill="#ff0000" font-weight="bold">A</text>
<text x="291.00" y="59.90" font-size="6.5" fill="#1a1a1a" stroke="#1a1a1a" stroke-width="0.05" text-anchor="start" font-weight="normal" >Group</text>
<line x1="296.00" y1="64.70" x2="296.00" y2="66.20" stroke="#000000" stroke-width="0.8"/>
<line x1="296.00" y1="71.20" x2="296.00" y2="72.70" stroke="#000000" stroke-width="0.8"/>
<rect x="292.25" y="66.20" width="7.50" height="5.00" stroke="#000000" stroke-width="0.8" fill="none"/>
<line x1="292.25" y1="68.70" x2="299.75" y2="68.70" stroke="#000000" stroke-width="0.8"/>
<circle cx="296.00" cy="68.70" r="0.85" fill="#000000"/>
<text x="304.30" y="70.85" font-size="5.3" fill="#1a1a1a" stroke="#1a1a1a" stroke-width="0.06" text-anchor="start" font-weight="normal" >Coals</text>
<line x1="296.00" y1="74.70" x2="296.00" y2="76.20" stroke="#2a74b6" stroke-width="0.8"/>
<line x1="296.00" y1="81.20" x2="296.00" y2="82.70" stroke="#2a74b6" stroke-width="0.8"/>
<rect x="292.25" y="76.20" width="7.50" height="5.00" stroke="#2a74b6" stroke-width="0.8" fill="none"/>
<line x1="292.25" y1="78.70" x2="299.75" y2="78.70" stroke="#2a74b6" stroke-width="0.8"/>
<circle cx="296.00" cy="78.70" r="0.85" fill="#2a74b6"/>
<text x="304.30" y="80.85" font-size="5.3" fill="#1a1a1a" stroke="#1a1a1a" stroke-width="0.06" text-anchor="start" font-weight="normal" >Electricity</text>
<line x1="296.00" y1="84.70" x2="296.00" y2="86.20" stroke="#1f9e6e" stroke-width="0.8"/>
<line x1="296.00" y1="91.20" x2="296.00" y2="92.70" stroke="#1f9e6e" stroke-width="0.8"/>
<rect x="292.25" y="86.20" width="7.50" height="5.00" stroke="#1f9e6e" stroke-width="0.8" fill="none"/>
<line x1="292.25" y1="88.70" x2="299.75" y2="88.70" stroke="#1f9e6e" stroke-width="0.8"/>
<circle cx="296.00" cy="88.70" r="0.85" fill="#1f9e6e"/>
<text x="304.30" y="90.85" font-size="5.3" fill="#1a1a1a" stroke="#1a1a1a" stroke-width="0.06" text-anchor="start" font-weight="normal" >Forest</text>
<line x1="296.00" y1="94.70" x2="296.00" y2="96.20" stroke="#56b4e9" stroke-width="0.8"/>
<line x1="296.00" y1="101.20" x2="296.00" y2="102.70" stroke="#56b4e9" stroke-width="0.8"/>
<rect x="292.25" y="96.20" width="7.50" height="5.00" stroke="#56b4e9" stroke-width="0.8" fill="none"/>
<line x1="292.25" y1="98.70" x2="299.75" y2="98.70" stroke="#56b4e9" stroke-width="0.8"/>
<circle cx="296.00" cy="98.70" r="0.85" fill="#56b4e9"/>
<text x="304.30" y="100.85" font-size="5.3" fill="#1a1a1a" stroke="#1a1a1a" stroke-width="0.06" text-anchor="start" font-weight="normal" >Gases</text>
<line x1="296.00" y1="104.70" x2="296.00" y2="106.20" stroke="#e69f00" stroke-width="0.8"/>
<line x1="296.00" y1="111.20" x2="296.00" y2="112.70" stroke="#e69f00" stroke-width="0.8"/>
<rect x="292.25" y="106.20" width="7.50" height="5.00" stroke="#e69f00" stroke-width="0.8" fill="none"/>
<line x1="292.25" y1="108.70" x2="299.75" y2="108.70" stroke="#e69f00" stroke-width="0.8"/>
<circle cx="296.00" cy="108.70" r="0.85" fill="#e69f00"/>
<text x="304.30" y="110.85" font-size="5.3" fill="#1a1a1a" stroke="#1a1a1a" stroke-width="0.06" text-anchor="start" font-weight="normal" >Heat</text>
<line x1="296.00" y1="114.70" x2="296.00" y2="116.20" stroke="#d55e00" stroke-width="0.8"/>
<line x1="296.00" y1="121.20" x2="296.00" y2="122.70" stroke="#d55e00" stroke-width="0.8"/>
<rect x="292.25" y="116.20" width="7.50" height="5.00" stroke="#d55e00" stroke-width="0.8" fill="none"/>
<line x1="292.25" y1="118.70" x2="299.75" y2="118.70" stroke="#d55e00" stroke-width="0.8"/>
<circle cx="296.00" cy="118.70" r="0.85" fill="#d55e00"/>
<text x="304.30" y="120.85" font-size="5.3" fill="#1a1a1a" stroke="#1a1a1a" stroke-width="0.06" text-anchor="start" font-weight="normal" >Oils</text>
<line x1="296.00" y1="124.70" x2="296.00" y2="126.20" stroke="#858585" stroke-width="0.8"/>
<line x1="296.00" y1="131.20" x2="296.00" y2="132.70" stroke="#858585" stroke-width="0.8"/>
<rect x="292.25" y="126.20" width="7.50" height="5.00" stroke="#858585" stroke-width="0.8" fill="none"/>
<line x1="292.25" y1="128.70" x2="299.75" y2="128.70" stroke="#858585" stroke-width="0.8"/>
<circle cx="296.00" cy="128.70" r="0.85" fill="#858585"/>
<text x="304.30" y="130.85" font-size="5.3" fill="#1a1a1a" stroke="#1a1a1a" stroke-width="0.06" text-anchor="start" font-weight="normal" >Others</text>
<rect x="390.50" y="0.30" width="249.00" height="186.70" stroke="#b3b3b3" stroke-width="1" fill="none"/>
<line x1="388.50" y1="9.40" x2="390.50" y2="9.40" stroke="#555" stroke-width="0.7"/>
<text x="387.50" y="11.61" font-size="6.3" fill="#2a2a2a" stroke="#2a2a2a" stroke-width="0.2" text-anchor="end" font-weight="normal" >0.000</text>
<line x1="388.50" y1="56.10" x2="390.50" y2="56.10" stroke="#555" stroke-width="0.7"/>
<text x="387.50" y="58.30" font-size="6.3" fill="#2a2a2a" stroke="#2a2a2a" stroke-width="0.2" text-anchor="end" font-weight="normal" >-0.025</text>
<line x1="388.50" y1="102.80" x2="390.50" y2="102.80" stroke="#555" stroke-width="0.7"/>
<text x="387.50" y="105.00" font-size="6.3" fill="#2a2a2a" stroke="#2a2a2a" stroke-width="0.2" text-anchor="end" font-weight="normal" >-0.050</text>
<line x1="388.50" y1="149.50" x2="390.50" y2="149.50" stroke="#555" stroke-width="0.7"/>
<text x="387.50" y="151.71" font-size="6.3" fill="#2a2a2a" stroke="#2a2a2a" stroke-width="0.2" text-anchor="end" font-weight="normal" >-0.075</text>
<line x1="397.55" y1="187.00" x2="397.55" y2="189.00" stroke="#555" stroke-width="0.7"/>
<text transform="translate(400.55,193.10) rotate(-45)" font-size="5.2" fill="#2a2a2a" stroke="#2a2a2a" stroke-width="0.18" text-anchor="end">Briquettes</text>
<line x1="409.30" y1="187.00" x2="409.30" y2="189.00" stroke="#555" stroke-width="0.7"/>
<text transform="translate(412.30,193.10) rotate(-45)" font-size="5.2" fill="#2a2a2a" stroke="#2a2a2a" stroke-width="0.18" text-anchor="end">Cleaned Coal</text>
<line x1="421.05" y1="187.00" x2="421.05" y2="189.00" stroke="#555" stroke-width="0.7"/>
<text transform="translate(424.05,193.10) rotate(-45)" font-size="5.2" fill="#2a2a2a" stroke="#2a2a2a" stroke-width="0.18" text-anchor="end">Coke</text>
<line x1="432.80" y1="187.00" x2="432.80" y2="189.00" stroke="#555" stroke-width="0.7"/>
<text transform="translate(435.80,193.10) rotate(-45)" font-size="5.2" fill="#2a2a2a" stroke="#2a2a2a" stroke-width="0.18" text-anchor="end">Coke Oven Gas</text>
<line x1="444.55" y1="187.00" x2="444.55" y2="189.00" stroke="#555" stroke-width="0.7"/>
<text transform="translate(447.55,193.10) rotate(-45)" font-size="5.2" fill="#2a2a2a" stroke="#2a2a2a" stroke-width="0.18" text-anchor="end">Crude Oil</text>
<line x1="456.30" y1="187.00" x2="456.30" y2="189.00" stroke="#555" stroke-width="0.7"/>
<text transform="translate(459.30,193.10) rotate(-45)" font-size="5.2" fill="#2a2a2a" stroke="#2a2a2a" stroke-width="0.18" text-anchor="end">Diesel Oil</text>
<line x1="468.05" y1="187.00" x2="468.05" y2="189.00" stroke="#555" stroke-width="0.7"/>
<text transform="translate(471.05,193.10) rotate(-45)" font-size="5.2" fill="#2a2a2a" stroke="#2a2a2a" stroke-width="0.18" text-anchor="end">Electricity</text>
<line x1="479.80" y1="187.00" x2="479.80" y2="189.00" stroke="#555" stroke-width="0.7"/>
<text transform="translate(482.80,193.10) rotate(-45)" font-size="5.2" fill="#2a2a2a" stroke="#2a2a2a" stroke-width="0.18" text-anchor="end">Forest Coverage</text>
<line x1="491.55" y1="187.00" x2="491.55" y2="189.00" stroke="#555" stroke-width="0.7"/>
<text transform="translate(494.55,193.10) rotate(-45)" font-size="5.2" fill="#2a2a2a" stroke="#2a2a2a" stroke-width="0.18" text-anchor="end">Fuel Oil</text>
<line x1="503.30" y1="187.00" x2="503.30" y2="189.00" stroke="#555" stroke-width="0.7"/>
<text transform="translate(506.30,193.10) rotate(-45)" font-size="5.2" fill="#2a2a2a" stroke="#2a2a2a" stroke-width="0.18" text-anchor="end">Gasoline</text>
<line x1="515.05" y1="187.00" x2="515.05" y2="189.00" stroke="#555" stroke-width="0.7"/>
<text transform="translate(518.05,193.10) rotate(-45)" font-size="5.2" fill="#2a2a2a" stroke="#2a2a2a" stroke-width="0.18" text-anchor="end">Heat</text>
<line x1="526.80" y1="187.00" x2="526.80" y2="189.00" stroke="#555" stroke-width="0.7"/>
<text transform="translate(529.80,193.10) rotate(-45)" font-size="5.2" fill="#2a2a2a" stroke="#2a2a2a" stroke-width="0.18" text-anchor="end">Kerosene</text>
<line x1="538.55" y1="187.00" x2="538.55" y2="189.00" stroke="#555" stroke-width="0.7"/>
<text transform="translate(541.55,193.10) rotate(-45)" font-size="5.2" fill="#2a2a2a" stroke="#2a2a2a" stroke-width="0.18" text-anchor="end">LPG</text>
<line x1="550.30" y1="187.00" x2="550.30" y2="189.00" stroke="#555" stroke-width="0.7"/>
<text transform="translate(553.30,193.10) rotate(-45)" font-size="5.2" fill="#2a2a2a" stroke="#2a2a2a" stroke-width="0.18" text-anchor="end">Natural Gas</text>
<line x1="562.05" y1="187.00" x2="562.05" y2="189.00" stroke="#555" stroke-width="0.7"/>
<text transform="translate(565.05,193.10) rotate(-45)" font-size="5.2" fill="#2a2a2a" stroke="#2a2a2a" stroke-width="0.18" text-anchor="end">Other Coking Products</text>
<line x1="573.80" y1="187.00" x2="573.80" y2="189.00" stroke="#555" stroke-width="0.7"/>
<text transform="translate(576.80,193.10) rotate(-45)" font-size="5.2" fill="#2a2a2a" stroke="#2a2a2a" stroke-width="0.18" text-anchor="end">Other Energy</text>
<line x1="585.55" y1="187.00" x2="585.55" y2="189.00" stroke="#555" stroke-width="0.7"/>
<text transform="translate(588.55,193.10) rotate(-45)" font-size="5.2" fill="#2a2a2a" stroke="#2a2a2a" stroke-width="0.18" text-anchor="end">Other Gas</text>
<line x1="597.30" y1="187.00" x2="597.30" y2="189.00" stroke="#555" stroke-width="0.7"/>
<text transform="translate(600.30,193.10) rotate(-45)" font-size="5.2" fill="#2a2a2a" stroke="#2a2a2a" stroke-width="0.18" text-anchor="end">Other Petroleum Products</text>
<line x1="609.05" y1="187.00" x2="609.05" y2="189.00" stroke="#555" stroke-width="0.7"/>
<text transform="translate(612.05,193.10) rotate(-45)" font-size="5.2" fill="#2a2a2a" stroke="#2a2a2a" stroke-width="0.18" text-anchor="end">Other Washed Coal</text>
<line x1="620.80" y1="187.00" x2="620.80" y2="189.00" stroke="#555" stroke-width="0.7"/>
<text transform="translate(623.80,193.10) rotate(-45)" font-size="5.2" fill="#2a2a2a" stroke="#2a2a2a" stroke-width="0.18" text-anchor="end">Raw Coal</text>
<line x1="632.55" y1="187.00" x2="632.55" y2="189.00" stroke="#555" stroke-width="0.7"/>
<text transform="translate(635.55,193.10) rotate(-45)" font-size="5.2" fill="#2a2a2a" stroke="#2a2a2a" stroke-width="0.18" text-anchor="end">Refinery Gas</text>
<line x1="397.55" y1="10.60" x2="397.55" y2="10.80" stroke="#000000" stroke-width="0.7"/>
<rect x="392.90" y="9.00" width="9.30" height="1.60" stroke="#000000" stroke-width="0.7" fill="none"/>
<line x1="392.90" y1="9.40" x2="402.20" y2="9.40" stroke="#000000" stroke-width="1.0499999999999998"/>
<circle cx="396.07" cy="9.51" r="0.85" fill="#000000"/>
<circle cx="396.63" cy="9.52" r="0.85" fill="#000000"/>
<circle cx="397.35" cy="9.83" r="0.85" fill="#000000"/>
<circle cx="397.59" cy="9.51" r="0.85" fill="#000000"/>
<circle cx="393.71" cy="9.52" r="0.85" fill="#000000"/>
<circle cx="396.77" cy="9.72" r="0.85" fill="#000000"/>
<circle cx="394.00" cy="9.92" r="0.85" fill="#000000"/>
<circle cx="395.48" cy="9.56" r="0.85" fill="#000000"/>
<circle cx="398.21" cy="10.32" r="0.85" fill="#000000"/>
<circle cx="398.77" cy="9.65" r="0.85" fill="#000000"/>
<line x1="409.30" y1="11.00" x2="409.30" y2="11.20" stroke="#000000" stroke-width="0.7"/>
<rect x="404.65" y="9.00" width="9.30" height="2.00" stroke="#000000" stroke-width="0.7" fill="none"/>
<line x1="404.65" y1="9.60" x2="413.95" y2="9.60" stroke="#000000" stroke-width="1.0499999999999998"/>
<circle cx="410.98" cy="9.86" r="0.85" fill="#000000"/>
<circle cx="407.95" cy="9.84" r="0.85" fill="#000000"/>
<circle cx="413.06" cy="9.97" r="0.85" fill="#000000"/>
<circle cx="410.41" cy="10.15" r="0.85" fill="#000000"/>
<circle cx="405.76" cy="10.04" r="0.85" fill="#000000"/>
<circle cx="410.29" cy="10.41" r="0.85" fill="#000000"/>
<circle cx="411.11" cy="9.60" r="0.85" fill="#000000"/>
<circle cx="409.48" cy="9.75" r="0.85" fill="#000000"/>
<circle cx="409.33" cy="9.96" r="0.85" fill="#000000"/>
<circle cx="411.83" cy="10.28" r="0.85" fill="#000000"/>
<line x1="421.05" y1="10.60" x2="421.05" y2="10.80" stroke="#000000" stroke-width="0.7"/>
<rect x="416.40" y="9.00" width="9.30" height="1.60" stroke="#000000" stroke-width="0.7" fill="none"/>
<line x1="416.40" y1="9.40" x2="425.70" y2="9.40" stroke="#000000" stroke-width="1.0499999999999998"/>
<circle cx="421.70" cy="10.09" r="0.85" fill="#000000"/>
<circle cx="422.55" cy="9.97" r="0.85" fill="#000000"/>
<circle cx="418.96" cy="9.76" r="0.85" fill="#000000"/>
<circle cx="419.97" cy="9.55" r="0.85" fill="#000000"/>
<circle cx="417.99" cy="9.83" r="0.85" fill="#000000"/>
<circle cx="422.04" cy="10.05" r="0.85" fill="#000000"/>
<circle cx="422.03" cy="9.74" r="0.85" fill="#000000"/>
<circle cx="417.20" cy="10.03" r="0.85" fill="#000000"/>
<circle cx="423.36" cy="9.51" r="0.85" fill="#000000"/>
<circle cx="421.32" cy="10.09" r="0.85" fill="#000000"/>
<line x1="432.80" y1="10.60" x2="432.80" y2="10.80" stroke="#000000" stroke-width="0.7"/>
<rect x="428.15" y="9.00" width="9.30" height="1.60" stroke="#000000" stroke-width="0.7" fill="none"/>
<line x1="428.15" y1="9.40" x2="437.45" y2="9.40" stroke="#000000" stroke-width="1.0499999999999998"/>
<circle cx="434.04" cy="10.25" r="0.85" fill="#000000"/>
<circle cx="430.88" cy="9.83" r="0.85" fill="#000000"/>
<circle cx="429.50" cy="9.58" r="0.85" fill="#000000"/>
<circle cx="430.51" cy="10.30" r="0.85" fill="#000000"/>
<circle cx="434.66" cy="10.08" r="0.85" fill="#000000"/>
<circle cx="431.89" cy="9.59" r="0.85" fill="#000000"/>
<circle cx="432.64" cy="9.85" r="0.85" fill="#000000"/>
<circle cx="433.71" cy="10.28" r="0.85" fill="#000000"/>
<circle cx="433.91" cy="9.75" r="0.85" fill="#000000"/>
<circle cx="430.89" cy="9.63" r="0.85" fill="#000000"/>
<line x1="444.55" y1="10.20" x2="444.55" y2="10.40" stroke="#d55e00" stroke-width="0.7"/>
<rect x="439.90" y="9.00" width="9.30" height="1.20" stroke="#d55e00" stroke-width="0.7" fill="none"/>
<line x1="439.90" y1="9.40" x2="449.20" y2="9.40" stroke="#d55e00" stroke-width="1.0499999999999998"/>
<circle cx="446.44" cy="9.72" r="0.85" fill="#d55e00"/>
<circle cx="440.77" cy="10.11" r="0.85" fill="#d55e00"/>
<circle cx="441.14" cy="9.59" r="0.85" fill="#d55e00"/>
<circle cx="446.04" cy="10.24" r="0.85" fill="#d55e00"/>
<circle cx="445.91" cy="9.65" r="0.85" fill="#d55e00"/>
<circle cx="444.28" cy="10.08" r="0.85" fill="#d55e00"/>
<circle cx="444.29" cy="10.28" r="0.85" fill="#d55e00"/>
<circle cx="442.22" cy="10.22" r="0.85" fill="#d55e00"/>
<circle cx="448.26" cy="9.59" r="0.85" fill="#d55e00"/>
<circle cx="444.23" cy="9.54" r="0.85" fill="#d55e00"/>
<line x1="456.30" y1="13.60" x2="456.30" y2="18.40" stroke="#d55e00" stroke-width="0.7"/>
<rect x="451.65" y="9.20" width="9.30" height="4.40" stroke="#d55e00" stroke-width="0.7" fill="none"/>
<line x1="451.65" y1="9.60" x2="460.95" y2="9.60" stroke="#d55e00" stroke-width="1.0499999999999998"/>
<circle cx="458.78" cy="10.04" r="0.85" fill="#d55e00"/>
<circle cx="454.51" cy="9.61" r="0.85" fill="#d55e00"/>
<circle cx="454.05" cy="9.82" r="0.85" fill="#d55e00"/>
<circle cx="456.93" cy="9.62" r="0.85" fill="#d55e00"/>
<circle cx="453.52" cy="10.72" r="0.85" fill="#d55e00"/>
<circle cx="453.45" cy="9.69" r="0.85" fill="#d55e00"/>
<circle cx="458.78" cy="10.54" r="0.85" fill="#d55e00"/>
<circle cx="457.88" cy="9.56" r="0.85" fill="#d55e00"/>
<circle cx="454.22" cy="9.96" r="0.85" fill="#d55e00"/>
<circle cx="452.62" cy="9.85" r="0.85" fill="#d55e00"/>
<line x1="468.05" y1="23.40" x2="468.05" y2="41.00" stroke="#2a74b6" stroke-width="0.7"/>
<rect x="463.40" y="9.40" width="9.30" height="14.00" stroke="#2a74b6" stroke-width="0.7" fill="none"/>
<line x1="463.40" y1="9.80" x2="472.70" y2="9.80" stroke="#2a74b6" stroke-width="1.0499999999999998"/>
<circle cx="464.20" cy="10.05" r="0.85" fill="#2a74b6"/>
<circle cx="466.51" cy="9.53" r="0.85" fill="#2a74b6"/>
<circle cx="465.26" cy="9.74" r="0.85" fill="#2a74b6"/>
<circle cx="470.69" cy="9.86" r="0.85" fill="#2a74b6"/>
<circle cx="464.19" cy="9.50" r="0.85" fill="#2a74b6"/>
<circle cx="465.10" cy="10.46" r="0.85" fill="#2a74b6"/>
<circle cx="471.36" cy="9.75" r="0.85" fill="#2a74b6"/>
<circle cx="466.42" cy="10.55" r="0.85" fill="#2a74b6"/>
<circle cx="467.06" cy="10.93" r="0.85" fill="#2a74b6"/>
<circle cx="468.74" cy="10.64" r="0.85" fill="#2a74b6"/>
<line x1="479.80" y1="10.00" x2="479.80" y2="10.20" stroke="#1f9e6e" stroke-width="0.7"/>
<rect x="475.15" y="9.00" width="9.30" height="1.00" stroke="#1f9e6e" stroke-width="0.7" fill="none"/>
<line x1="475.15" y1="9.40" x2="484.45" y2="9.40" stroke="#1f9e6e" stroke-width="1.0499999999999998"/>
<circle cx="478.72" cy="9.86" r="0.85" fill="#1f9e6e"/>
<circle cx="476.30" cy="9.68" r="0.85" fill="#1f9e6e"/>
<circle cx="476.71" cy="9.71" r="0.85" fill="#1f9e6e"/>
<circle cx="483.18" cy="9.85" r="0.85" fill="#1f9e6e"/>
<circle cx="477.86" cy="9.56" r="0.85" fill="#1f9e6e"/>
<circle cx="477.39" cy="10.10" r="0.85" fill="#1f9e6e"/>
<circle cx="478.82" cy="10.50" r="0.85" fill="#1f9e6e"/>
<circle cx="482.22" cy="9.78" r="0.85" fill="#1f9e6e"/>
<circle cx="480.82" cy="10.52" r="0.85" fill="#1f9e6e"/>
<circle cx="480.18" cy="10.12" r="0.85" fill="#1f9e6e"/>
<line x1="491.55" y1="10.20" x2="491.55" y2="10.40" stroke="#d55e00" stroke-width="0.7"/>
<rect x="486.90" y="9.00" width="9.30" height="1.20" stroke="#d55e00" stroke-width="0.7" fill="none"/>
<line x1="486.90" y1="9.40" x2="496.20" y2="9.40" stroke="#d55e00" stroke-width="1.0499999999999998"/>
<circle cx="493.25" cy="10.27" r="0.85" fill="#d55e00"/>
<circle cx="491.17" cy="9.75" r="0.85" fill="#d55e00"/>
<circle cx="493.51" cy="9.75" r="0.85" fill="#d55e00"/>
<circle cx="488.05" cy="9.82" r="0.85" fill="#d55e00"/>
<circle cx="494.86" cy="9.89" r="0.85" fill="#d55e00"/>
<circle cx="490.34" cy="9.91" r="0.85" fill="#d55e00"/>
<circle cx="489.98" cy="9.59" r="0.85" fill="#d55e00"/>
<circle cx="489.69" cy="10.86" r="0.85" fill="#d55e00"/>
<circle cx="492.76" cy="9.70" r="0.85" fill="#d55e00"/>
<circle cx="490.73" cy="10.11" r="0.85" fill="#d55e00"/>
<line x1="503.30" y1="16.40" x2="503.30" y2="23.20" stroke="#d55e00" stroke-width="0.7"/>
<rect x="498.65" y="9.20" width="9.30" height="7.20" stroke="#d55e00" stroke-width="0.7" fill="none"/>
<line x1="498.65" y1="9.60" x2="507.95" y2="9.60" stroke="#d55e00" stroke-width="1.0499999999999998"/>
<circle cx="500.72" cy="9.68" r="0.85" fill="#d55e00"/>
<circle cx="506.45" cy="9.79" r="0.85" fill="#d55e00"/>
<circle cx="503.28" cy="9.70" r="0.85" fill="#d55e00"/>
<circle cx="507.15" cy="10.57" r="0.85" fill="#d55e00"/>
<circle cx="502.91" cy="9.71" r="0.85" fill="#d55e00"/>
<circle cx="500.13" cy="9.75" r="0.85" fill="#d55e00"/>
<circle cx="502.07" cy="9.81" r="0.85" fill="#d55e00"/>
<circle cx="501.43" cy="9.70" r="0.85" fill="#d55e00"/>
<circle cx="503.84" cy="10.13" r="0.85" fill="#d55e00"/>
<circle cx="502.62" cy="10.04" r="0.85" fill="#d55e00"/>
<line x1="515.05" y1="10.20" x2="515.05" y2="10.40" stroke="#e69f00" stroke-width="0.7"/>
<rect x="510.40" y="9.00" width="9.30" height="1.20" stroke="#e69f00" stroke-width="0.7" fill="none"/>
<line x1="510.40" y1="9.40" x2="519.70" y2="9.40" stroke="#e69f00" stroke-width="1.0499999999999998"/>
<circle cx="514.38" cy="9.98" r="0.85" fill="#e69f00"/>
<circle cx="513.80" cy="9.57" r="0.85" fill="#e69f00"/>
<circle cx="511.65" cy="9.73" r="0.85" fill="#e69f00"/>
<circle cx="512.15" cy="10.79" r="0.85" fill="#e69f00"/>
<circle cx="515.08" cy="10.18" r="0.85" fill="#e69f00"/>
<circle cx="512.85" cy="10.22" r="0.85" fill="#e69f00"/>
<circle cx="513.27" cy="9.50" r="0.85" fill="#e69f00"/>
<circle cx="514.63" cy="10.01" r="0.85" fill="#e69f00"/>
<circle cx="518.57" cy="10.09" r="0.85" fill="#e69f00"/>
<circle cx="511.34" cy="10.33" r="0.85" fill="#e69f00"/>
<line x1="526.80" y1="14.20" x2="526.80" y2="19.60" stroke="#d55e00" stroke-width="0.7"/>
<rect x="522.15" y="9.00" width="9.30" height="5.20" stroke="#d55e00" stroke-width="0.7" fill="none"/>
<line x1="522.15" y1="9.60" x2="531.45" y2="9.60" stroke="#d55e00" stroke-width="1.0499999999999998"/>
<circle cx="523.17" cy="9.77" r="0.85" fill="#d55e00"/>
<circle cx="526.59" cy="10.53" r="0.85" fill="#d55e00"/>
<circle cx="527.48" cy="10.00" r="0.85" fill="#d55e00"/>
<circle cx="530.11" cy="9.50" r="0.85" fill="#d55e00"/>
<circle cx="529.32" cy="10.32" r="0.85" fill="#d55e00"/>
<circle cx="524.85" cy="10.56" r="0.85" fill="#d55e00"/>
<circle cx="523.77" cy="9.84" r="0.85" fill="#d55e00"/>
<circle cx="528.21" cy="10.00" r="0.85" fill="#d55e00"/>
<circle cx="530.22" cy="9.63" r="0.85" fill="#d55e00"/>
<circle cx="528.85" cy="10.21" r="0.85" fill="#d55e00"/>
<line x1="538.55" y1="10.20" x2="538.55" y2="10.40" stroke="#56b4e9" stroke-width="0.7"/>
<rect x="533.90" y="9.00" width="9.30" height="1.20" stroke="#56b4e9" stroke-width="0.7" fill="none"/>
<line x1="533.90" y1="9.40" x2="543.20" y2="9.40" stroke="#56b4e9" stroke-width="1.0499999999999998"/>
<circle cx="538.22" cy="9.63" r="0.85" fill="#56b4e9"/>
<circle cx="540.74" cy="9.55" r="0.85" fill="#56b4e9"/>
<circle cx="536.48" cy="10.13" r="0.85" fill="#56b4e9"/>
<circle cx="537.03" cy="9.85" r="0.85" fill="#56b4e9"/>
<circle cx="535.66" cy="9.51" r="0.85" fill="#56b4e9"/>
<circle cx="540.09" cy="10.21" r="0.85" fill="#56b4e9"/>
<circle cx="535.54" cy="10.05" r="0.85" fill="#56b4e9"/>
<circle cx="539.19" cy="9.76" r="0.85" fill="#56b4e9"/>
<circle cx="537.68" cy="9.61" r="0.85" fill="#56b4e9"/>
<circle cx="534.75" cy="10.17" r="0.85" fill="#56b4e9"/>
<line x1="550.30" y1="19.00" x2="550.30" y2="24.00" stroke="#56b4e9" stroke-width="0.7"/>
<rect x="545.65" y="9.40" width="9.30" height="9.60" stroke="#56b4e9" stroke-width="0.7" fill="none"/>
<line x1="545.65" y1="11.80" x2="554.95" y2="11.80" stroke="#56b4e9" stroke-width="1.0499999999999998"/>
<circle cx="548.76" cy="10.73" r="0.85" fill="#56b4e9"/>
<circle cx="551.42" cy="9.81" r="0.85" fill="#56b4e9"/>
<circle cx="553.28" cy="9.86" r="0.85" fill="#56b4e9"/>
<circle cx="548.34" cy="9.56" r="0.85" fill="#56b4e9"/>
<circle cx="553.87" cy="9.62" r="0.85" fill="#56b4e9"/>
<circle cx="546.59" cy="9.91" r="0.85" fill="#56b4e9"/>
<circle cx="550.29" cy="9.74" r="0.85" fill="#56b4e9"/>
<circle cx="548.42" cy="9.96" r="0.85" fill="#56b4e9"/>
<circle cx="551.60" cy="9.82" r="0.85" fill="#56b4e9"/>
<circle cx="546.69" cy="9.66" r="0.85" fill="#56b4e9"/>
<line x1="562.05" y1="10.60" x2="562.05" y2="10.80" stroke="#858585" stroke-width="0.7"/>
<rect x="557.40" y="9.00" width="9.30" height="1.60" stroke="#858585" stroke-width="0.7" fill="none"/>
<line x1="557.40" y1="9.40" x2="566.70" y2="9.40" stroke="#858585" stroke-width="1.0499999999999998"/>
<circle cx="560.79" cy="10.17" r="0.85" fill="#858585"/>
<circle cx="559.71" cy="9.86" r="0.85" fill="#858585"/>
<circle cx="564.35" cy="9.54" r="0.85" fill="#858585"/>
<circle cx="559.76" cy="10.09" r="0.85" fill="#858585"/>
<circle cx="565.69" cy="9.85" r="0.85" fill="#858585"/>
<circle cx="559.96" cy="10.36" r="0.85" fill="#858585"/>
<circle cx="559.89" cy="9.53" r="0.85" fill="#858585"/>
<circle cx="565.55" cy="9.92" r="0.85" fill="#858585"/>
<circle cx="562.02" cy="9.64" r="0.85" fill="#858585"/>
<circle cx="561.41" cy="9.83" r="0.85" fill="#858585"/>
<line x1="573.80" y1="11.00" x2="573.80" y2="11.20" stroke="#858585" stroke-width="0.7"/>
<rect x="569.15" y="9.00" width="9.30" height="2.00" stroke="#858585" stroke-width="0.7" fill="none"/>
<line x1="569.15" y1="9.60" x2="578.45" y2="9.60" stroke="#858585" stroke-width="1.0499999999999998"/>
<circle cx="575.08" cy="9.77" r="0.85" fill="#858585"/>
<circle cx="572.97" cy="9.59" r="0.85" fill="#858585"/>
<circle cx="571.57" cy="9.77" r="0.85" fill="#858585"/>
<circle cx="570.32" cy="9.54" r="0.85" fill="#858585"/>
<circle cx="570.39" cy="10.34" r="0.85" fill="#858585"/>
<circle cx="576.77" cy="10.16" r="0.85" fill="#858585"/>
<circle cx="575.60" cy="10.66" r="0.85" fill="#858585"/>
<circle cx="572.48" cy="9.52" r="0.85" fill="#858585"/>
<circle cx="571.36" cy="10.26" r="0.85" fill="#858585"/>
<circle cx="570.17" cy="9.82" r="0.85" fill="#858585"/>
<line x1="585.55" y1="10.80" x2="585.55" y2="11.00" stroke="#858585" stroke-width="0.7"/>
<rect x="580.90" y="9.00" width="9.30" height="1.80" stroke="#858585" stroke-width="0.7" fill="none"/>
<line x1="580.90" y1="9.40" x2="590.20" y2="9.40" stroke="#858585" stroke-width="1.0499999999999998"/>
<circle cx="586.83" cy="9.85" r="0.85" fill="#858585"/>
<circle cx="584.24" cy="9.83" r="0.85" fill="#858585"/>
<circle cx="582.99" cy="9.91" r="0.85" fill="#858585"/>
<circle cx="584.40" cy="9.51" r="0.85" fill="#858585"/>
<circle cx="589.08" cy="10.42" r="0.85" fill="#858585"/>
<circle cx="583.28" cy="10.41" r="0.85" fill="#858585"/>
<circle cx="584.44" cy="9.90" r="0.85" fill="#858585"/>
<circle cx="585.03" cy="10.34" r="0.85" fill="#858585"/>
<circle cx="582.05" cy="9.98" r="0.85" fill="#858585"/>
<circle cx="588.80" cy="9.58" r="0.85" fill="#858585"/>
<line x1="597.30" y1="14.00" x2="597.30" y2="15.80" stroke="#858585" stroke-width="0.7"/>
<rect x="592.65" y="9.00" width="9.30" height="5.00" stroke="#858585" stroke-width="0.7" fill="none"/>
<line x1="592.65" y1="10.00" x2="601.95" y2="10.00" stroke="#858585" stroke-width="1.0499999999999998"/>
<circle cx="594.92" cy="10.20" r="0.85" fill="#858585"/>
<circle cx="593.66" cy="10.30" r="0.85" fill="#858585"/>
<circle cx="596.61" cy="9.82" r="0.85" fill="#858585"/>
<circle cx="593.74" cy="10.29" r="0.85" fill="#858585"/>
<circle cx="593.69" cy="10.54" r="0.85" fill="#858585"/>
<circle cx="595.42" cy="9.93" r="0.85" fill="#858585"/>
<circle cx="599.22" cy="9.87" r="0.85" fill="#858585"/>
<circle cx="595.53" cy="9.77" r="0.85" fill="#858585"/>
<circle cx="600.85" cy="9.79" r="0.85" fill="#858585"/>
<circle cx="598.98" cy="9.76" r="0.85" fill="#858585"/>
<line x1="609.05" y1="12.20" x2="609.05" y2="13.00" stroke="#000000" stroke-width="0.7"/>
<rect x="604.40" y="9.00" width="9.30" height="3.20" stroke="#000000" stroke-width="0.7" fill="none"/>
<line x1="604.40" y1="10.00" x2="613.70" y2="10.00" stroke="#000000" stroke-width="1.0499999999999998"/>
<circle cx="607.63" cy="9.51" r="0.85" fill="#000000"/>
<circle cx="611.03" cy="9.54" r="0.85" fill="#000000"/>
<circle cx="612.28" cy="10.30" r="0.85" fill="#000000"/>
<circle cx="605.36" cy="10.39" r="0.85" fill="#000000"/>
<circle cx="606.99" cy="10.74" r="0.85" fill="#000000"/>
<circle cx="612.57" cy="9.69" r="0.85" fill="#000000"/>
<circle cx="608.17" cy="9.50" r="0.85" fill="#000000"/>
<circle cx="609.00" cy="10.03" r="0.85" fill="#000000"/>
<circle cx="612.37" cy="9.87" r="0.85" fill="#000000"/>
<circle cx="610.90" cy="10.32" r="0.85" fill="#000000"/>
<line x1="620.80" y1="11.60" x2="620.80" y2="11.80" stroke="#000000" stroke-width="0.7"/>
<rect x="616.15" y="9.00" width="9.30" height="2.60" stroke="#000000" stroke-width="0.7" fill="none"/>
<line x1="616.15" y1="9.60" x2="625.45" y2="9.60" stroke="#000000" stroke-width="1.0499999999999998"/>
<circle cx="623.30" cy="9.60" r="0.85" fill="#000000"/>
<circle cx="619.46" cy="10.18" r="0.85" fill="#000000"/>
<circle cx="619.40" cy="10.06" r="0.85" fill="#000000"/>
<circle cx="617.54" cy="10.17" r="0.85" fill="#000000"/>
<circle cx="618.45" cy="9.51" r="0.85" fill="#000000"/>
<circle cx="617.42" cy="9.88" r="0.85" fill="#000000"/>
<circle cx="617.19" cy="9.92" r="0.85" fill="#000000"/>
<circle cx="624.52" cy="9.64" r="0.85" fill="#000000"/>
<circle cx="623.77" cy="9.89" r="0.85" fill="#000000"/>
<circle cx="617.57" cy="9.53" r="0.85" fill="#000000"/>
<line x1="632.55" y1="10.60" x2="632.55" y2="10.80" stroke="#56b4e9" stroke-width="0.7"/>
<rect x="627.90" y="9.00" width="9.30" height="1.60" stroke="#56b4e9" stroke-width="0.7" fill="none"/>
<line x1="627.90" y1="9.40" x2="637.20" y2="9.40" stroke="#56b4e9" stroke-width="1.0499999999999998"/>
<circle cx="629.42" cy="10.29" r="0.85" fill="#56b4e9"/>
<circle cx="632.14" cy="9.51" r="0.85" fill="#56b4e9"/>
<circle cx="630.49" cy="10.10" r="0.85" fill="#56b4e9"/>
<circle cx="633.90" cy="9.85" r="0.85" fill="#56b4e9"/>
<circle cx="634.47" cy="9.92" r="0.85" fill="#56b4e9"/>
<circle cx="629.61" cy="10.11" r="0.85" fill="#56b4e9"/>
<circle cx="635.19" cy="9.68" r="0.85" fill="#56b4e9"/>
<circle cx="631.56" cy="10.12" r="0.85" fill="#56b4e9"/>
<circle cx="634.40" cy="9.62" r="0.85" fill="#56b4e9"/>
<circle cx="630.58" cy="9.86" r="0.85" fill="#56b4e9"/>
<circle cx="394.80" cy="14.40" r="0.85" fill="#000000"/>
<circle cx="396.80" cy="16.60" r="0.85" fill="#000000"/>
<circle cx="399.80" cy="17.60" r="0.85" fill="#000000"/>
<circle cx="397.60" cy="23.00" r="0.85" fill="#000000"/>
<circle cx="396.20" cy="75.00" r="0.85" fill="#000000"/>
<circle cx="410.60" cy="13.20" r="0.85" fill="#000000"/>
<circle cx="406.80" cy="35.60" r="0.85" fill="#000000"/>
<circle cx="419.40" cy="12.80" r="0.85" fill="#000000"/>
<circle cx="430.40" cy="11.20" r="0.85" fill="#000000"/>
<circle cx="434.40" cy="11.20" r="0.85" fill="#000000"/>
<circle cx="431.40" cy="16.80" r="0.85" fill="#000000"/>
<circle cx="431.40" cy="29.00" r="0.85" fill="#000000"/>
<circle cx="444.40" cy="11.60" r="0.85" fill="#d55e00"/>
<circle cx="444.60" cy="21.20" r="0.85" fill="#d55e00"/>
<circle cx="446.20" cy="22.80" r="0.85" fill="#d55e00"/>
<circle cx="457.00" cy="12.80" r="0.85" fill="#d55e00"/>
<circle cx="453.40" cy="16.60" r="0.85" fill="#d55e00"/>
<circle cx="453.80" cy="18.80" r="0.85" fill="#d55e00"/>
<circle cx="456.20" cy="18.00" r="0.85" fill="#d55e00"/>
<circle cx="457.60" cy="22.00" r="0.85" fill="#d55e00"/>
<circle cx="458.00" cy="30.80" r="0.85" fill="#d55e00"/>
<circle cx="465.40" cy="20.40" r="0.85" fill="#2a74b6"/>
<circle cx="470.00" cy="18.20" r="0.85" fill="#2a74b6"/>
<circle cx="468.80" cy="24.00" r="0.85" fill="#2a74b6"/>
<circle cx="469.80" cy="28.00" r="0.85" fill="#2a74b6"/>
<circle cx="469.60" cy="27.90" r="0.85" fill="#2a74b6"/>
<circle cx="468.50" cy="40.50" r="0.85" fill="#2a74b6"/>
<circle cx="468.50" cy="25.00" r="0.85" fill="#2a74b6"/>
<circle cx="468.80" cy="27.00" r="0.85" fill="#2a74b6"/>
<circle cx="469.00" cy="30.50" r="0.85" fill="#2a74b6"/>
<circle cx="468.20" cy="33.00" r="0.85" fill="#2a74b6"/>
<circle cx="468.60" cy="36.00" r="0.85" fill="#2a74b6"/>
<circle cx="468.40" cy="38.50" r="0.85" fill="#2a74b6"/>
<circle cx="470.40" cy="45.30" r="0.85" fill="#2a74b6"/>
<circle cx="469.90" cy="51.40" r="0.85" fill="#2a74b6"/>
<circle cx="480.00" cy="15.80" r="0.85" fill="#1f9e6e"/>
<circle cx="490.20" cy="22.80" r="0.85" fill="#d55e00"/>
<circle cx="494.20" cy="21.00" r="0.85" fill="#d55e00"/>
<circle cx="503.00" cy="14.40" r="0.85" fill="#d55e00"/>
<circle cx="503.60" cy="22.80" r="0.85" fill="#d55e00"/>
<circle cx="501.80" cy="31.60" r="0.85" fill="#d55e00"/>
<circle cx="502.00" cy="33.00" r="0.85" fill="#d55e00"/>
<circle cx="501.30" cy="60.00" r="0.85" fill="#d55e00"/>
<circle cx="502.50" cy="58.00" r="0.85" fill="#d55e00"/>
<circle cx="512.20" cy="13.60" r="0.85" fill="#e69f00"/>
<circle cx="514.00" cy="20.00" r="0.85" fill="#e69f00"/>
<circle cx="516.20" cy="38.20" r="0.85" fill="#e69f00"/>
<circle cx="515.60" cy="37.80" r="0.85" fill="#e69f00"/>
<circle cx="516.90" cy="40.90" r="0.85" fill="#e69f00"/>
<circle cx="526.20" cy="11.20" r="0.85" fill="#d55e00"/>
<circle cx="525.80" cy="15.00" r="0.85" fill="#d55e00"/>
<circle cx="524.60" cy="16.00" r="0.85" fill="#d55e00"/>
<circle cx="524.40" cy="20.40" r="0.85" fill="#d55e00"/>
<circle cx="525.40" cy="28.80" r="0.85" fill="#d55e00"/>
<circle cx="525.40" cy="35.00" r="0.85" fill="#d55e00"/>
<circle cx="525.30" cy="44.20" r="0.85" fill="#d55e00"/>
<circle cx="526.10" cy="89.20" r="0.85" fill="#d55e00"/>
<circle cx="540.00" cy="12.00" r="0.85" fill="#56b4e9"/>
<circle cx="547.20" cy="12.80" r="0.85" fill="#56b4e9"/>
<circle cx="549.00" cy="16.40" r="0.85" fill="#56b4e9"/>
<circle cx="551.60" cy="16.00" r="0.85" fill="#56b4e9"/>
<circle cx="548.40" cy="19.00" r="0.85" fill="#56b4e9"/>
<circle cx="553.00" cy="20.40" r="0.85" fill="#56b4e9"/>
<circle cx="550.00" cy="24.00" r="0.85" fill="#56b4e9"/>
<circle cx="550.20" cy="34.00" r="0.85" fill="#56b4e9"/>
<circle cx="550.10" cy="33.80" r="0.85" fill="#56b4e9"/>
<circle cx="551.20" cy="67.90" r="0.85" fill="#56b4e9"/>
<circle cx="550.40" cy="89.00" r="0.85" fill="#56b4e9"/>
<circle cx="547.70" cy="95.40" r="0.85" fill="#56b4e9"/>
<circle cx="552.40" cy="179.00" r="0.85" fill="#56b4e9"/>
<circle cx="560.20" cy="12.40" r="0.85" fill="#858585"/>
<circle cx="561.20" cy="14.40" r="0.85" fill="#858585"/>
<circle cx="563.80" cy="15.60" r="0.85" fill="#858585"/>
<circle cx="564.80" cy="18.20" r="0.85" fill="#858585"/>
<circle cx="572.80" cy="12.40" r="0.85" fill="#858585"/>
<circle cx="575.60" cy="13.00" r="0.85" fill="#858585"/>
<circle cx="576.40" cy="16.00" r="0.85" fill="#858585"/>
<circle cx="573.60" cy="18.20" r="0.85" fill="#858585"/>
<circle cx="571.80" cy="27.00" r="0.85" fill="#858585"/>
<circle cx="573.60" cy="26.00" r="0.85" fill="#858585"/>
<circle cx="583.40" cy="15.40" r="0.85" fill="#858585"/>
<circle cx="586.60" cy="13.60" r="0.85" fill="#858585"/>
<circle cx="583.00" cy="20.10" r="0.85" fill="#858585"/>
<circle cx="585.40" cy="22.20" r="0.85" fill="#858585"/>
<circle cx="587.50" cy="20.40" r="0.85" fill="#858585"/>
<circle cx="583.60" cy="39.10" r="0.85" fill="#858585"/>
<circle cx="583.70" cy="39.40" r="0.85" fill="#858585"/>
<circle cx="584.00" cy="57.00" r="0.85" fill="#858585"/>
<circle cx="595.20" cy="24.30" r="0.85" fill="#858585"/>
<circle cx="599.50" cy="38.50" r="0.85" fill="#858585"/>
<circle cx="597.60" cy="45.00" r="0.85" fill="#858585"/>
<circle cx="595.70" cy="58.60" r="0.85" fill="#858585"/>
<circle cx="597.30" cy="84.50" r="0.85" fill="#858585"/>
<circle cx="608.80" cy="15.40" r="0.85" fill="#000000"/>
<circle cx="612.00" cy="16.70" r="0.85" fill="#000000"/>
<circle cx="610.10" cy="23.50" r="0.85" fill="#000000"/>
<circle cx="609.90" cy="27.10" r="0.85" fill="#000000"/>
<circle cx="608.80" cy="34.70" r="0.85" fill="#000000"/>
<circle cx="611.70" cy="34.40" r="0.85" fill="#000000"/>
<circle cx="611.60" cy="80.10" r="0.85" fill="#000000"/>
<circle cx="618.70" cy="18.10" r="0.85" fill="#000000"/>
<circle cx="620.50" cy="19.50" r="0.85" fill="#000000"/>
<circle cx="621.40" cy="21.00" r="0.85" fill="#000000"/>
<circle cx="623.20" cy="34.40" r="0.85" fill="#000000"/>
<circle cx="631.40" cy="12.70" r="0.85" fill="#56b4e9"/>
<circle cx="633.20" cy="14.00" r="0.85" fill="#56b4e9"/>
<circle cx="634.60" cy="30.60" r="0.85" fill="#56b4e9"/>
<circle cx="634.80" cy="39.40" r="0.85" fill="#56b4e9"/>
<text transform="translate(366.00,94.85) rotate(-90)" font-size="8.4" fill="#000" stroke="#000" stroke-width="0.08" text-anchor="middle">Change in MAE (GDP)</text>
<text x="515.00" y="243.00" font-size="8.0" fill="#000" stroke="#000" stroke-width="0.08" text-anchor="middle" font-weight="normal" >Predictors</text>
<text transform="translate(363.90,239.00) scale(0.93,1)" font-size="17.5" fill="#ff0000" font-weight="bold">B</text>
<text x="649.30" y="59.90" font-size="6.5" fill="#1a1a1a" stroke="#1a1a1a" stroke-width="0.05" text-anchor="start" font-weight="normal" >Group</text>
<line x1="654.30" y1="64.70" x2="654.30" y2="66.20" stroke="#000000" stroke-width="0.8"/>
<line x1="654.30" y1="71.20" x2="654.30" y2="72.70" stroke="#000000" stroke-width="0.8"/>
<rect x="650.55" y="66.20" width="7.50" height="5.00" stroke="#000000" stroke-width="0.8" fill="none"/>
<line x1="650.55" y1="68.70" x2="658.05" y2="68.70" stroke="#000000" stroke-width="0.8"/>
<circle cx="654.30" cy="68.70" r="0.85" fill="#000000"/>
<text x="662.60" y="70.85" font-size="5.3" fill="#1a1a1a" stroke="#1a1a1a" stroke-width="0.06" text-anchor="start" font-weight="normal" >Coals</text>
<line x1="654.30" y1="74.70" x2="654.30" y2="76.20" stroke="#2a74b6" stroke-width="0.8"/>
<line x1="654.30" y1="81.20" x2="654.30" y2="82.70" stroke="#2a74b6" stroke-width="0.8"/>
<rect x="650.55" y="76.20" width="7.50" height="5.00" stroke="#2a74b6" stroke-width="0.8" fill="none"/>
<line x1="650.55" y1="78.70" x2="658.05" y2="78.70" stroke="#2a74b6" stroke-width="0.8"/>
<circle cx="654.30" cy="78.70" r="0.85" fill="#2a74b6"/>
<text x="662.60" y="80.85" font-size="5.3" fill="#1a1a1a" stroke="#1a1a1a" stroke-width="0.06" text-anchor="start" font-weight="normal" >Electricity</text>
<line x1="654.30" y1="84.70" x2="654.30" y2="86.20" stroke="#1f9e6e" stroke-width="0.8"/>
<line x1="654.30" y1="91.20" x2="654.30" y2="92.70" stroke="#1f9e6e" stroke-width="0.8"/>
<rect x="650.55" y="86.20" width="7.50" height="5.00" stroke="#1f9e6e" stroke-width="0.8" fill="none"/>
<line x1="650.55" y1="88.70" x2="658.05" y2="88.70" stroke="#1f9e6e" stroke-width="0.8"/>
<circle cx="654.30" cy="88.70" r="0.85" fill="#1f9e6e"/>
<text x="662.60" y="90.85" font-size="5.3" fill="#1a1a1a" stroke="#1a1a1a" stroke-width="0.06" text-anchor="start" font-weight="normal" >Forest</text>
<line x1="654.30" y1="94.70" x2="654.30" y2="96.20" stroke="#56b4e9" stroke-width="0.8"/>
<line x1="654.30" y1="101.20" x2="654.30" y2="102.70" stroke="#56b4e9" stroke-width="0.8"/>
<rect x="650.55" y="96.20" width="7.50" height="5.00" stroke="#56b4e9" stroke-width="0.8" fill="none"/>
<line x1="650.55" y1="98.70" x2="658.05" y2="98.70" stroke="#56b4e9" stroke-width="0.8"/>
<circle cx="654.30" cy="98.70" r="0.85" fill="#56b4e9"/>
<text x="662.60" y="100.85" font-size="5.3" fill="#1a1a1a" stroke="#1a1a1a" stroke-width="0.06" text-anchor="start" font-weight="normal" >Gases</text>
<line x1="654.30" y1="104.70" x2="654.30" y2="106.20" stroke="#e69f00" stroke-width="0.8"/>
<line x1="654.30" y1="111.20" x2="654.30" y2="112.70" stroke="#e69f00" stroke-width="0.8"/>
<rect x="650.55" y="106.20" width="7.50" height="5.00" stroke="#e69f00" stroke-width="0.8" fill="none"/>
<line x1="650.55" y1="108.70" x2="658.05" y2="108.70" stroke="#e69f00" stroke-width="0.8"/>
<circle cx="654.30" cy="108.70" r="0.85" fill="#e69f00"/>
<text x="662.60" y="110.85" font-size="5.3" fill="#1a1a1a" stroke="#1a1a1a" stroke-width="0.06" text-anchor="start" font-weight="normal" >Heat</text>
<line x1="654.30" y1="114.70" x2="654.30" y2="116.20" stroke="#d55e00" stroke-width="0.8"/>
<line x1="654.30" y1="121.20" x2="654.30" y2="122.70" stroke="#d55e00" stroke-width="0.8"/>
<rect x="650.55" y="116.20" width="7.50" height="5.00" stroke="#d55e00" stroke-width="0.8" fill="none"/>
<line x1="650.55" y1="118.70" x2="658.05" y2="118.70" stroke="#d55e00" stroke-width="0.8"/>
<circle cx="654.30" cy="118.70" r="0.85" fill="#d55e00"/>
<text x="662.60" y="120.85" font-size="5.3" fill="#1a1a1a" stroke="#1a1a1a" stroke-width="0.06" text-anchor="start" font-weight="normal" >Oils</text>
<line x1="654.30" y1="124.70" x2="654.30" y2="126.20" stroke="#858585" stroke-width="0.8"/>
<line x1="654.30" y1="131.20" x2="654.30" y2="132.70" stroke="#858585" stroke-width="0.8"/>
<rect x="650.55" y="126.20" width="7.50" height="5.00" stroke="#858585" stroke-width="0.8" fill="none"/>
<line x1="650.55" y1="128.70" x2="658.05" y2="128.70" stroke="#858585" stroke-width="0.8"/>
<circle cx="654.30" cy="128.70" r="0.85" fill="#858585"/>
<text x="662.60" y="130.85" font-size="5.3" fill="#1a1a1a" stroke="#1a1a1a" stroke-width="0.06" text-anchor="start" font-weight="normal" >Others</text>
<rect x="32.30" y="256.30" width="249.20" height="192.30" stroke="#b3b3b3" stroke-width="1" fill="none"/>
<line x1="30.70" y1="266.50" x2="32.30" y2="266.50" stroke="#555" stroke-width="0.7"/>
<text x="29.70" y="268.70" font-size="6.3" fill="#2a2a2a" stroke="#2a2a2a" stroke-width="0.2" text-anchor="end" font-weight="normal" >0.000</text>
<line x1="30.70" y1="311.65" x2="32.30" y2="311.65" stroke="#555" stroke-width="0.7"/>
<text x="29.70" y="313.85" font-size="6.3" fill="#2a2a2a" stroke="#2a2a2a" stroke-width="0.2" text-anchor="end" font-weight="normal" >-0.025</text>
<line x1="30.70" y1="356.80" x2="32.30" y2="356.80" stroke="#555" stroke-width="0.7"/>
<text x="29.70" y="359.00" font-size="6.3" fill="#2a2a2a" stroke="#2a2a2a" stroke-width="0.2" text-anchor="end" font-weight="normal" >-0.050</text>
<line x1="30.70" y1="401.95" x2="32.30" y2="401.95" stroke="#555" stroke-width="0.7"/>
<text x="29.70" y="404.15" font-size="6.3" fill="#2a2a2a" stroke="#2a2a2a" stroke-width="0.2" text-anchor="end" font-weight="normal" >-0.075</text>
<line x1="30.70" y1="447.10" x2="32.30" y2="447.10" stroke="#555" stroke-width="0.7"/>
<text x="29.70" y="449.31" font-size="6.3" fill="#2a2a2a" stroke="#2a2a2a" stroke-width="0.2" text-anchor="end" font-weight="normal" >-0.100</text>
<line x1="56.55" y1="448.60" x2="56.55" y2="450.20" stroke="#555" stroke-width="0.7"/>
<text transform="translate(59.85,454.90) rotate(-45)" font-size="6.6" fill="#2a2a2a" stroke="#2a2a2a" stroke-width="0.18" text-anchor="end">Electricity</text>
<line x1="96.73" y1="448.60" x2="96.73" y2="450.20" stroke="#555" stroke-width="0.7"/>
<text transform="translate(100.03,454.90) rotate(-45)" font-size="6.6" fill="#2a2a2a" stroke="#2a2a2a" stroke-width="0.18" text-anchor="end">Forest Coverage</text>
<line x1="136.91" y1="448.60" x2="136.91" y2="450.20" stroke="#555" stroke-width="0.7"/>
<text transform="translate(140.21,454.90) rotate(-45)" font-size="6.6" fill="#2a2a2a" stroke="#2a2a2a" stroke-width="0.18" text-anchor="end">Kerosene</text>
<line x1="177.09" y1="448.60" x2="177.09" y2="450.20" stroke="#555" stroke-width="0.7"/>
<text transform="translate(180.39,454.90) rotate(-45)" font-size="6.6" fill="#2a2a2a" stroke="#2a2a2a" stroke-width="0.18" text-anchor="end">Natural Gas</text>
<line x1="217.27" y1="448.60" x2="217.27" y2="450.20" stroke="#555" stroke-width="0.7"/>
<text transform="translate(220.57,454.90) rotate(-45)" font-size="6.6" fill="#2a2a2a" stroke="#2a2a2a" stroke-width="0.18" text-anchor="end">Other Energy</text>
<line x1="257.45" y1="448.60" x2="257.45" y2="450.20" stroke="#555" stroke-width="0.7"/>
<text transform="translate(260.75,454.90) rotate(-45)" font-size="6.6" fill="#2a2a2a" stroke="#2a2a2a" stroke-width="0.18" text-anchor="end">Raw Coal</text>
<line x1="56.55" y1="336.30" x2="56.55" y2="383.50" stroke="#2a74b6" stroke-width="0.62"/>
<line x1="56.55" y1="266.00" x2="56.55" y2="271.40" stroke="#2a74b6" stroke-width="0.62"/>
<rect x="41.35" y="271.40" width="30.40" height="64.90" stroke="#2a74b6" stroke-width="0.62" fill="none"/>
<line x1="41.35" y1="291.50" x2="71.75" y2="291.50" stroke="#2a74b6" stroke-width="1.24"/>
<line x1="96.73" y1="266.60" x2="96.73" y2="266.90" stroke="#1f9e6e" stroke-width="0.62"/>
<rect x="81.53" y="265.90" width="30.40" height="0.70" stroke="#1f9e6e" stroke-width="0.62" fill="none"/>
<line x1="81.53" y1="266.30" x2="111.93" y2="266.30" stroke="#1f9e6e" stroke-width="1.24"/>
<circle cx="87.54" cy="266.89" r="1.25" fill="#1f9e6e"/>
<circle cx="92.12" cy="266.82" r="1.25" fill="#1f9e6e"/>
<circle cx="93.97" cy="267.01" r="1.25" fill="#1f9e6e"/>
<circle cx="89.61" cy="266.33" r="1.25" fill="#1f9e6e"/>
<circle cx="104.91" cy="267.35" r="1.25" fill="#1f9e6e"/>
<circle cx="86.18" cy="267.81" r="1.25" fill="#1f9e6e"/>
<circle cx="96.06" cy="266.78" r="1.25" fill="#1f9e6e"/>
<circle cx="107.72" cy="267.34" r="1.25" fill="#1f9e6e"/>
<circle cx="84.54" cy="266.38" r="1.25" fill="#1f9e6e"/>
<circle cx="88.50" cy="266.59" r="1.25" fill="#1f9e6e"/>
<line x1="136.91" y1="272.40" x2="136.91" y2="276.00" stroke="#d55e00" stroke-width="0.62"/>
<rect x="121.71" y="266.10" width="30.40" height="6.30" stroke="#d55e00" stroke-width="0.62" fill="none"/>
<line x1="121.71" y1="266.60" x2="152.11" y2="266.60" stroke="#d55e00" stroke-width="1.24"/>
<circle cx="149.45" cy="267.50" r="1.25" fill="#d55e00"/>
<circle cx="133.52" cy="266.99" r="1.25" fill="#d55e00"/>
<circle cx="146.62" cy="266.74" r="1.25" fill="#d55e00"/>
<circle cx="144.28" cy="266.45" r="1.25" fill="#d55e00"/>
<circle cx="148.73" cy="266.94" r="1.25" fill="#d55e00"/>
<circle cx="140.09" cy="266.80" r="1.25" fill="#d55e00"/>
<circle cx="129.42" cy="266.52" r="1.25" fill="#d55e00"/>
<circle cx="129.06" cy="266.54" r="1.25" fill="#d55e00"/>
<circle cx="130.41" cy="267.01" r="1.25" fill="#d55e00"/>
<circle cx="129.05" cy="266.81" r="1.25" fill="#d55e00"/>
<circle cx="123.95" cy="266.72" r="1.25" fill="#d55e00"/>
<circle cx="128.56" cy="267.10" r="1.25" fill="#d55e00"/>
<circle cx="131.93" cy="266.61" r="1.25" fill="#d55e00"/>
<circle cx="138.18" cy="267.32" r="1.25" fill="#d55e00"/>
<line x1="177.09" y1="293.30" x2="177.09" y2="329.60" stroke="#56b4e9" stroke-width="0.62"/>
<rect x="161.89" y="266.40" width="30.40" height="26.90" stroke="#56b4e9" stroke-width="0.62" fill="none"/>
<line x1="161.89" y1="273.60" x2="192.29" y2="273.60" stroke="#56b4e9" stroke-width="1.24"/>
<line x1="217.27" y1="281.00" x2="217.27" y2="301.50" stroke="#858585" stroke-width="0.62"/>
<rect x="202.07" y="266.40" width="30.40" height="14.60" stroke="#858585" stroke-width="0.62" fill="none"/>
<line x1="202.07" y1="269.20" x2="232.47" y2="269.20" stroke="#858585" stroke-width="1.24"/>
<circle cx="205.69" cy="266.78" r="1.25" fill="#858585"/>
<circle cx="218.60" cy="266.66" r="1.25" fill="#858585"/>
<circle cx="220.96" cy="266.60" r="1.25" fill="#858585"/>
<circle cx="222.45" cy="266.49" r="1.25" fill="#858585"/>
<circle cx="214.88" cy="266.41" r="1.25" fill="#858585"/>
<circle cx="229.29" cy="266.80" r="1.25" fill="#858585"/>
<circle cx="212.29" cy="266.82" r="1.25" fill="#858585"/>
<circle cx="215.05" cy="266.53" r="1.25" fill="#858585"/>
<circle cx="226.93" cy="266.87" r="1.25" fill="#858585"/>
<circle cx="209.24" cy="266.31" r="1.25" fill="#858585"/>
<circle cx="223.32" cy="266.32" r="1.25" fill="#858585"/>
<circle cx="227.92" cy="266.36" r="1.25" fill="#858585"/>
<line x1="257.45" y1="289.50" x2="257.45" y2="321.80" stroke="#000000" stroke-width="0.62"/>
<line x1="257.45" y1="266.00" x2="257.45" y2="267.70" stroke="#000000" stroke-width="0.62"/>
<rect x="242.25" y="267.70" width="30.40" height="21.80" stroke="#000000" stroke-width="0.62" fill="none"/>
<line x1="242.25" y1="274.50" x2="272.65" y2="274.50" stroke="#000000" stroke-width="1.24"/>
<circle cx="50.90" cy="267.10" r="1.25" fill="#2a74b6"/>
<circle cx="52.40" cy="267.10" r="1.25" fill="#2a74b6"/>
<circle cx="58.10" cy="265.70" r="1.25" fill="#2a74b6"/>
<circle cx="61.70" cy="266.10" r="1.25" fill="#2a74b6"/>
<circle cx="63.80" cy="267.10" r="1.25" fill="#2a74b6"/>
<circle cx="65.70" cy="268.40" r="1.25" fill="#2a74b6"/>
<circle cx="53.70" cy="271.80" r="1.25" fill="#2a74b6"/>
<circle cx="62.80" cy="271.30" r="1.25" fill="#2a74b6"/>
<circle cx="54.70" cy="275.00" r="1.25" fill="#2a74b6"/>
<circle cx="53.50" cy="277.90" r="1.25" fill="#2a74b6"/>
<circle cx="58.80" cy="278.50" r="1.25" fill="#2a74b6"/>
<circle cx="61.90" cy="281.30" r="1.25" fill="#2a74b6"/>
<circle cx="58.10" cy="284.70" r="1.25" fill="#2a74b6"/>
<circle cx="47.50" cy="289.80" r="1.25" fill="#2a74b6"/>
<circle cx="51.30" cy="292.70" r="1.25" fill="#2a74b6"/>
<circle cx="61.90" cy="295.20" r="1.25" fill="#2a74b6"/>
<circle cx="63.80" cy="293.30" r="1.25" fill="#2a74b6"/>
<circle cx="63.20" cy="299.00" r="1.25" fill="#2a74b6"/>
<circle cx="62.60" cy="299.70" r="1.25" fill="#2a74b6"/>
<circle cx="65.70" cy="306.00" r="1.25" fill="#2a74b6"/>
<circle cx="50.90" cy="314.00" r="1.25" fill="#2a74b6"/>
<circle cx="46.70" cy="344.80" r="1.25" fill="#2a74b6"/>
<circle cx="54.30" cy="344.20" r="1.25" fill="#2a74b6"/>
<circle cx="58.50" cy="345.70" r="1.25" fill="#2a74b6"/>
<circle cx="46.90" cy="350.30" r="1.25" fill="#2a74b6"/>
<circle cx="47.10" cy="360.40" r="1.25" fill="#2a74b6"/>
<circle cx="52.20" cy="375.50" r="1.25" fill="#2a74b6"/>
<circle cx="60.40" cy="383.30" r="1.25" fill="#2a74b6"/>
<circle cx="49.40" cy="440.10" r="1.25" fill="#2a74b6"/>
<circle cx="96.90" cy="264.30" r="1.25" fill="#1f9e6e"/>
<circle cx="88.70" cy="268.90" r="1.25" fill="#1f9e6e"/>
<circle cx="95.30" cy="267.90" r="1.25" fill="#1f9e6e"/>
<circle cx="103.00" cy="268.00" r="1.25" fill="#1f9e6e"/>
<circle cx="96.60" cy="272.60" r="1.25" fill="#1f9e6e"/>
<circle cx="105.20" cy="275.20" r="1.25" fill="#1f9e6e"/>
<circle cx="130.00" cy="271.00" r="1.25" fill="#d55e00"/>
<circle cx="133.80" cy="270.20" r="1.25" fill="#d55e00"/>
<circle cx="128.50" cy="273.10" r="1.25" fill="#d55e00"/>
<circle cx="140.50" cy="271.70" r="1.25" fill="#d55e00"/>
<circle cx="142.00" cy="274.30" r="1.25" fill="#d55e00"/>
<circle cx="135.50" cy="274.90" r="1.25" fill="#d55e00"/>
<circle cx="134.10" cy="276.10" r="1.25" fill="#d55e00"/>
<circle cx="145.20" cy="268.80" r="1.25" fill="#d55e00"/>
<circle cx="130.30" cy="268.20" r="1.25" fill="#d55e00"/>
<circle cx="128.00" cy="310.00" r="1.25" fill="#d55e00"/>
<circle cx="135.30" cy="313.80" r="1.25" fill="#d55e00"/>
<circle cx="140.30" cy="305.50" r="1.25" fill="#d55e00"/>
<circle cx="168.70" cy="266.40" r="1.25" fill="#56b4e9"/>
<circle cx="172.10" cy="266.20" r="1.25" fill="#56b4e9"/>
<circle cx="177.80" cy="266.40" r="1.25" fill="#56b4e9"/>
<circle cx="182.50" cy="267.50" r="1.25" fill="#56b4e9"/>
<circle cx="186.30" cy="266.00" r="1.25" fill="#56b4e9"/>
<circle cx="173.00" cy="271.10" r="1.25" fill="#56b4e9"/>
<circle cx="183.80" cy="271.70" r="1.25" fill="#56b4e9"/>
<circle cx="169.80" cy="275.50" r="1.25" fill="#56b4e9"/>
<circle cx="172.10" cy="281.20" r="1.25" fill="#56b4e9"/>
<circle cx="177.80" cy="283.10" r="1.25" fill="#56b4e9"/>
<circle cx="182.50" cy="283.10" r="1.25" fill="#56b4e9"/>
<circle cx="186.30" cy="282.00" r="1.25" fill="#56b4e9"/>
<circle cx="167.30" cy="286.30" r="1.25" fill="#56b4e9"/>
<circle cx="172.60" cy="290.70" r="1.25" fill="#56b4e9"/>
<circle cx="182.90" cy="293.90" r="1.25" fill="#56b4e9"/>
<circle cx="182.90" cy="298.60" r="1.25" fill="#56b4e9"/>
<circle cx="177.80" cy="302.80" r="1.25" fill="#56b4e9"/>
<circle cx="173.00" cy="315.70" r="1.25" fill="#56b4e9"/>
<circle cx="172.50" cy="321.00" r="1.25" fill="#56b4e9"/>
<circle cx="171.50" cy="329.00" r="1.25" fill="#56b4e9"/>
<circle cx="178.30" cy="329.60" r="1.25" fill="#56b4e9"/>
<circle cx="173.70" cy="403.40" r="1.25" fill="#56b4e9"/>
<circle cx="207.20" cy="272.50" r="1.25" fill="#858585"/>
<circle cx="210.00" cy="270.60" r="1.25" fill="#858585"/>
<circle cx="219.50" cy="270.20" r="1.25" fill="#858585"/>
<circle cx="221.40" cy="275.90" r="1.25" fill="#858585"/>
<circle cx="208.10" cy="279.70" r="1.25" fill="#858585"/>
<circle cx="221.80" cy="281.20" r="1.25" fill="#858585"/>
<circle cx="212.50" cy="285.70" r="1.25" fill="#858585"/>
<circle cx="222.70" cy="285.40" r="1.25" fill="#858585"/>
<circle cx="218.60" cy="288.80" r="1.25" fill="#858585"/>
<circle cx="215.70" cy="301.50" r="1.25" fill="#858585"/>
<circle cx="224.60" cy="304.00" r="1.25" fill="#858585"/>
<circle cx="210.00" cy="316.70" r="1.25" fill="#858585"/>
<circle cx="255.60" cy="266.00" r="1.25" fill="#000000"/>
<circle cx="258.40" cy="266.20" r="1.25" fill="#000000"/>
<circle cx="261.30" cy="266.00" r="1.25" fill="#000000"/>
<circle cx="265.60" cy="266.50" r="1.25" fill="#000000"/>
<circle cx="248.90" cy="268.30" r="1.25" fill="#000000"/>
<circle cx="251.80" cy="270.60" r="1.25" fill="#000000"/>
<circle cx="262.80" cy="269.20" r="1.25" fill="#000000"/>
<circle cx="260.30" cy="273.00" r="1.25" fill="#000000"/>
<circle cx="257.50" cy="274.50" r="1.25" fill="#000000"/>
<circle cx="259.00" cy="275.90" r="1.25" fill="#000000"/>
<circle cx="267.00" cy="275.50" r="1.25" fill="#000000"/>
<circle cx="248.00" cy="284.00" r="1.25" fill="#000000"/>
<circle cx="249.50" cy="284.80" r="1.25" fill="#000000"/>
<circle cx="259.90" cy="282.00" r="1.25" fill="#000000"/>
<circle cx="259.90" cy="286.30" r="1.25" fill="#000000"/>
<circle cx="261.80" cy="290.50" r="1.25" fill="#000000"/>
<circle cx="248.90" cy="291.40" r="1.25" fill="#000000"/>
<circle cx="247.60" cy="299.00" r="1.25" fill="#000000"/>
<circle cx="253.70" cy="300.90" r="1.25" fill="#000000"/>
<circle cx="251.80" cy="304.00" r="1.25" fill="#000000"/>
<circle cx="266.00" cy="305.70" r="1.25" fill="#000000"/>
<circle cx="252.20" cy="321.80" r="1.25" fill="#000000"/>
<circle cx="256.80" cy="366.40" r="1.25" fill="#000000"/>
<text transform="translate(8.00,352.60) rotate(-90)" font-size="8.3" fill="#000" stroke="#000" stroke-width="0.08" text-anchor="middle">Change in MAE (Emissions)</text>
<text x="156.90" y="498.60" font-size="8.0" fill="#000" stroke="#000" stroke-width="0.08" text-anchor="middle" font-weight="normal" >Predictors</text>
<text transform="translate(5.40,494.90) scale(1.0,1)" font-size="17.5" fill="#ff0000" font-weight="bold">C</text>
<text x="291.30" y="323.40" font-size="6.5" fill="#1a1a1a" stroke="#1a1a1a" stroke-width="0.05" text-anchor="start" font-weight="normal" >Group</text>
<line x1="296.30" y1="328.20" x2="296.30" y2="329.70" stroke="#000000" stroke-width="0.8"/>
<line x1="296.30" y1="334.70" x2="296.30" y2="336.20" stroke="#000000" stroke-width="0.8"/>
<rect x="292.55" y="329.70" width="7.50" height="5.00" stroke="#000000" stroke-width="0.8" fill="none"/>
<line x1="292.55" y1="332.20" x2="300.05" y2="332.20" stroke="#000000" stroke-width="0.8"/>
<circle cx="296.30" cy="332.20" r="1.2" fill="#000000"/>
<text x="304.60" y="334.35" font-size="5.3" fill="#1a1a1a" stroke="#1a1a1a" stroke-width="0.06" text-anchor="start" font-weight="normal" >Coals</text>
<line x1="296.30" y1="338.20" x2="296.30" y2="339.70" stroke="#2a74b6" stroke-width="0.8"/>
<line x1="296.30" y1="344.70" x2="296.30" y2="346.20" stroke="#2a74b6" stroke-width="0.8"/>
<rect x="292.55" y="339.70" width="7.50" height="5.00" stroke="#2a74b6" stroke-width="0.8" fill="none"/>
<line x1="292.55" y1="342.20" x2="300.05" y2="342.20" stroke="#2a74b6" stroke-width="0.8"/>
<circle cx="296.30" cy="342.20" r="1.2" fill="#2a74b6"/>
<text x="304.60" y="344.35" font-size="5.3" fill="#1a1a1a" stroke="#1a1a1a" stroke-width="0.06" text-anchor="start" font-weight="normal" >Electricity</text>
<line x1="296.30" y1="348.20" x2="296.30" y2="349.70" stroke="#1f9e6e" stroke-width="0.8"/>
<line x1="296.30" y1="354.70" x2="296.30" y2="356.20" stroke="#1f9e6e" stroke-width="0.8"/>
<rect x="292.55" y="349.70" width="7.50" height="5.00" stroke="#1f9e6e" stroke-width="0.8" fill="none"/>
<line x1="292.55" y1="352.20" x2="300.05" y2="352.20" stroke="#1f9e6e" stroke-width="0.8"/>
<circle cx="296.30" cy="352.20" r="1.2" fill="#1f9e6e"/>
<text x="304.60" y="354.35" font-size="5.3" fill="#1a1a1a" stroke="#1a1a1a" stroke-width="0.06" text-anchor="start" font-weight="normal" >Forest</text>
<line x1="296.30" y1="358.20" x2="296.30" y2="359.70" stroke="#56b4e9" stroke-width="0.8"/>
<line x1="296.30" y1="364.70" x2="296.30" y2="366.20" stroke="#56b4e9" stroke-width="0.8"/>
<rect x="292.55" y="359.70" width="7.50" height="5.00" stroke="#56b4e9" stroke-width="0.8" fill="none"/>
<line x1="292.55" y1="362.20" x2="300.05" y2="362.20" stroke="#56b4e9" stroke-width="0.8"/>
<circle cx="296.30" cy="362.20" r="1.2" fill="#56b4e9"/>
<text x="304.60" y="364.35" font-size="5.3" fill="#1a1a1a" stroke="#1a1a1a" stroke-width="0.06" text-anchor="start" font-weight="normal" >Gases</text>
<line x1="296.30" y1="368.20" x2="296.30" y2="369.70" stroke="#d55e00" stroke-width="0.8"/>
<line x1="296.30" y1="374.70" x2="296.30" y2="376.20" stroke="#d55e00" stroke-width="0.8"/>
<rect x="292.55" y="369.70" width="7.50" height="5.00" stroke="#d55e00" stroke-width="0.8" fill="none"/>
<line x1="292.55" y1="372.20" x2="300.05" y2="372.20" stroke="#d55e00" stroke-width="0.8"/>
<circle cx="296.30" cy="372.20" r="1.2" fill="#d55e00"/>
<text x="304.60" y="374.35" font-size="5.3" fill="#1a1a1a" stroke="#1a1a1a" stroke-width="0.06" text-anchor="start" font-weight="normal" >Oils</text>
<line x1="296.30" y1="378.20" x2="296.30" y2="379.70" stroke="#858585" stroke-width="0.8"/>
<line x1="296.30" y1="384.70" x2="296.30" y2="386.20" stroke="#858585" stroke-width="0.8"/>
<rect x="292.55" y="379.70" width="7.50" height="5.00" stroke="#858585" stroke-width="0.8" fill="none"/>
<line x1="292.55" y1="382.20" x2="300.05" y2="382.20" stroke="#858585" stroke-width="0.8"/>
<circle cx="296.30" cy="382.20" r="1.2" fill="#858585"/>
<text x="304.60" y="384.35" font-size="5.3" fill="#1a1a1a" stroke="#1a1a1a" stroke-width="0.06" text-anchor="start" font-weight="normal" >Others</text>
<rect x="386.50" y="256.50" width="252.80" height="192.10" stroke="#b3b3b3" stroke-width="1" fill="none"/>
<line x1="384.90" y1="265.40" x2="386.50" y2="265.40" stroke="#555" stroke-width="0.7"/>
<text x="383.90" y="267.60" font-size="6.3" fill="#2a2a2a" stroke="#2a2a2a" stroke-width="0.2" text-anchor="end" font-weight="normal" >0.00</text>
<line x1="384.90" y1="327.90" x2="386.50" y2="327.90" stroke="#555" stroke-width="0.7"/>
<text x="383.90" y="330.10" font-size="6.3" fill="#2a2a2a" stroke="#2a2a2a" stroke-width="0.2" text-anchor="end" font-weight="normal" >-0.05</text>
<line x1="384.90" y1="390.40" x2="386.50" y2="390.40" stroke="#555" stroke-width="0.7"/>
<text x="383.90" y="392.60" font-size="6.3" fill="#2a2a2a" stroke="#2a2a2a" stroke-width="0.2" text-anchor="end" font-weight="normal" >-0.10</text>
<line x1="411.05" y1="448.60" x2="411.05" y2="450.20" stroke="#555" stroke-width="0.7"/>
<text transform="translate(414.35,454.90) rotate(-45)" font-size="6.6" fill="#2a2a2a" stroke="#2a2a2a" stroke-width="0.18" text-anchor="end">Electricity</text>
<line x1="451.85" y1="448.60" x2="451.85" y2="450.20" stroke="#555" stroke-width="0.7"/>
<text transform="translate(455.15,454.90) rotate(-45)" font-size="6.6" fill="#2a2a2a" stroke="#2a2a2a" stroke-width="0.18" text-anchor="end">Forest Coverage</text>
<line x1="492.65" y1="448.60" x2="492.65" y2="450.20" stroke="#555" stroke-width="0.7"/>
<text transform="translate(495.95,454.90) rotate(-45)" font-size="6.6" fill="#2a2a2a" stroke="#2a2a2a" stroke-width="0.18" text-anchor="end">Kerosene</text>
<line x1="533.45" y1="448.60" x2="533.45" y2="450.20" stroke="#555" stroke-width="0.7"/>
<text transform="translate(536.75,454.90) rotate(-45)" font-size="6.6" fill="#2a2a2a" stroke="#2a2a2a" stroke-width="0.18" text-anchor="end">Natural Gas</text>
<line x1="574.25" y1="448.60" x2="574.25" y2="450.20" stroke="#555" stroke-width="0.7"/>
<text transform="translate(577.55,454.90) rotate(-45)" font-size="6.6" fill="#2a2a2a" stroke="#2a2a2a" stroke-width="0.18" text-anchor="end">Other Energy</text>
<line x1="615.05" y1="448.60" x2="615.05" y2="450.20" stroke="#555" stroke-width="0.7"/>
<text transform="translate(618.35,454.90) rotate(-45)" font-size="6.6" fill="#2a2a2a" stroke="#2a2a2a" stroke-width="0.18" text-anchor="end">Raw Coal</text>
<line x1="411.05" y1="285.40" x2="411.05" y2="300.00" stroke="#2a74b6" stroke-width="0.62"/>
<rect x="395.55" y="265.80" width="31.00" height="19.60" stroke="#2a74b6" stroke-width="0.62" fill="none"/>
<line x1="395.55" y1="276.40" x2="426.55" y2="276.40" stroke="#2a74b6" stroke-width="1.24"/>
<line x1="451.85" y1="265.80" x2="451.85" y2="266.00" stroke="#1f9e6e" stroke-width="0.62"/>
<rect x="436.35" y="265.20" width="31.00" height="0.60" stroke="#1f9e6e" stroke-width="0.62" fill="none"/>
<line x1="436.35" y1="265.50" x2="467.35" y2="265.50" stroke="#1f9e6e" stroke-width="1.24"/>
<circle cx="449.80" cy="265.76" r="1.25" fill="#1f9e6e"/>
<circle cx="462.16" cy="266.05" r="1.25" fill="#1f9e6e"/>
<circle cx="450.80" cy="265.55" r="1.25" fill="#1f9e6e"/>
<circle cx="453.24" cy="265.59" r="1.25" fill="#1f9e6e"/>
<circle cx="455.64" cy="265.72" r="1.25" fill="#1f9e6e"/>
<circle cx="455.14" cy="265.64" r="1.25" fill="#1f9e6e"/>
<circle cx="448.37" cy="265.84" r="1.25" fill="#1f9e6e"/>
<circle cx="446.01" cy="265.51" r="1.25" fill="#1f9e6e"/>
<circle cx="452.42" cy="265.76" r="1.25" fill="#1f9e6e"/>
<circle cx="451.59" cy="265.63" r="1.25" fill="#1f9e6e"/>
<circle cx="460.06" cy="265.89" r="1.25" fill="#1f9e6e"/>
<circle cx="441.80" cy="265.58" r="1.25" fill="#1f9e6e"/>
<circle cx="463.78" cy="266.18" r="1.25" fill="#1f9e6e"/>
<circle cx="439.82" cy="265.61" r="1.25" fill="#1f9e6e"/>
<line x1="492.65" y1="282.50" x2="492.65" y2="304.70" stroke="#d55e00" stroke-width="0.62"/>
<rect x="477.15" y="265.40" width="31.00" height="17.10" stroke="#d55e00" stroke-width="0.62" fill="none"/>
<line x1="477.15" y1="266.00" x2="508.15" y2="266.00" stroke="#d55e00" stroke-width="1.24"/>
<circle cx="504.13" cy="266.49" r="1.25" fill="#d55e00"/>
<circle cx="495.89" cy="266.34" r="1.25" fill="#d55e00"/>
<circle cx="501.39" cy="266.06" r="1.25" fill="#d55e00"/>
<circle cx="485.17" cy="266.39" r="1.25" fill="#d55e00"/>
<circle cx="490.08" cy="266.14" r="1.25" fill="#d55e00"/>
<circle cx="484.11" cy="266.43" r="1.25" fill="#d55e00"/>
<circle cx="485.06" cy="266.09" r="1.25" fill="#d55e00"/>
<circle cx="489.51" cy="265.93" r="1.25" fill="#d55e00"/>
<circle cx="482.50" cy="265.52" r="1.25" fill="#d55e00"/>
<circle cx="503.35" cy="266.46" r="1.25" fill="#d55e00"/>
<circle cx="480.29" cy="266.43" r="1.25" fill="#d55e00"/>
<circle cx="480.21" cy="265.89" r="1.25" fill="#d55e00"/>
<circle cx="501.76" cy="266.10" r="1.25" fill="#d55e00"/>
<circle cx="494.00" cy="266.05" r="1.25" fill="#d55e00"/>
<line x1="533.45" y1="302.90" x2="533.45" y2="328.50" stroke="#56b4e9" stroke-width="0.62"/>
<line x1="533.45" y1="265.20" x2="533.45" y2="268.40" stroke="#56b4e9" stroke-width="0.62"/>
<rect x="517.95" y="268.40" width="31.00" height="34.50" stroke="#56b4e9" stroke-width="0.62" fill="none"/>
<line x1="517.95" y1="279.00" x2="548.95" y2="279.00" stroke="#56b4e9" stroke-width="1.24"/>
<line x1="574.25" y1="270.40" x2="574.25" y2="274.00" stroke="#858585" stroke-width="0.62"/>
<rect x="558.75" y="265.20" width="31.00" height="5.20" stroke="#858585" stroke-width="0.62" fill="none"/>
<line x1="558.75" y1="267.20" x2="589.75" y2="267.20" stroke="#858585" stroke-width="1.24"/>
<circle cx="577.67" cy="265.72" r="1.25" fill="#858585"/>
<circle cx="576.47" cy="266.09" r="1.25" fill="#858585"/>
<circle cx="572.25" cy="265.85" r="1.25" fill="#858585"/>
<circle cx="572.59" cy="266.05" r="1.25" fill="#858585"/>
<circle cx="561.42" cy="266.01" r="1.25" fill="#858585"/>
<circle cx="567.12" cy="265.97" r="1.25" fill="#858585"/>
<circle cx="581.35" cy="265.62" r="1.25" fill="#858585"/>
<circle cx="565.62" cy="266.15" r="1.25" fill="#858585"/>
<circle cx="573.53" cy="265.75" r="1.25" fill="#858585"/>
<circle cx="572.38" cy="265.70" r="1.25" fill="#858585"/>
<circle cx="563.26" cy="266.17" r="1.25" fill="#858585"/>
<circle cx="561.88" cy="265.76" r="1.25" fill="#858585"/>
<circle cx="577.92" cy="266.35" r="1.25" fill="#858585"/>
<circle cx="581.73" cy="265.98" r="1.25" fill="#858585"/>
<line x1="615.05" y1="270.40" x2="615.05" y2="273.00" stroke="#000000" stroke-width="0.62"/>
<rect x="599.55" y="265.20" width="31.00" height="5.20" stroke="#000000" stroke-width="0.62" fill="none"/>
<line x1="599.55" y1="266.80" x2="630.55" y2="266.80" stroke="#000000" stroke-width="1.24"/>
<circle cx="615.36" cy="266.17" r="1.25" fill="#000000"/>
<circle cx="611.76" cy="265.74" r="1.25" fill="#000000"/>
<circle cx="627.19" cy="266.28" r="1.25" fill="#000000"/>
<circle cx="628.41" cy="266.39" r="1.25" fill="#000000"/>
<circle cx="621.30" cy="265.66" r="1.25" fill="#000000"/>
<circle cx="628.02" cy="265.86" r="1.25" fill="#000000"/>
<circle cx="614.83" cy="266.79" r="1.25" fill="#000000"/>
<circle cx="606.03" cy="265.86" r="1.25" fill="#000000"/>
<circle cx="622.82" cy="265.70" r="1.25" fill="#000000"/>
<circle cx="611.03" cy="265.59" r="1.25" fill="#000000"/>
<circle cx="621.95" cy="266.19" r="1.25" fill="#000000"/>
<circle cx="608.99" cy="266.57" r="1.25" fill="#000000"/>
<circle cx="623.55" cy="265.94" r="1.25" fill="#000000"/>
<circle cx="626.36" cy="266.06" r="1.25" fill="#000000"/>
<circle cx="607.20" cy="265.56" r="1.25" fill="#000000"/>
<circle cx="610.18" cy="266.21" r="1.25" fill="#000000"/>
<circle cx="602.58" cy="265.65" r="1.25" fill="#000000"/>
<circle cx="626.80" cy="265.82" r="1.25" fill="#000000"/>
<circle cx="403.00" cy="265.40" r="1.25" fill="#2a74b6"/>
<circle cx="404.00" cy="266.80" r="1.25" fill="#2a74b6"/>
<circle cx="407.40" cy="265.20" r="1.25" fill="#2a74b6"/>
<circle cx="412.50" cy="265.40" r="1.25" fill="#2a74b6"/>
<circle cx="414.80" cy="266.20" r="1.25" fill="#2a74b6"/>
<circle cx="418.20" cy="265.20" r="1.25" fill="#2a74b6"/>
<circle cx="420.50" cy="265.40" r="1.25" fill="#2a74b6"/>
<circle cx="404.50" cy="273.00" r="1.25" fill="#2a74b6"/>
<circle cx="407.80" cy="274.00" r="1.25" fill="#2a74b6"/>
<circle cx="420.10" cy="272.60" r="1.25" fill="#2a74b6"/>
<circle cx="409.70" cy="277.20" r="1.25" fill="#2a74b6"/>
<circle cx="411.60" cy="276.00" r="1.25" fill="#2a74b6"/>
<circle cx="401.10" cy="281.20" r="1.25" fill="#2a74b6"/>
<circle cx="406.30" cy="280.00" r="1.25" fill="#2a74b6"/>
<circle cx="410.60" cy="281.00" r="1.25" fill="#2a74b6"/>
<circle cx="418.20" cy="279.70" r="1.25" fill="#2a74b6"/>
<circle cx="413.80" cy="286.90" r="1.25" fill="#2a74b6"/>
<circle cx="408.20" cy="292.00" r="1.25" fill="#2a74b6"/>
<circle cx="418.80" cy="297.70" r="1.25" fill="#2a74b6"/>
<circle cx="412.90" cy="300.20" r="1.25" fill="#2a74b6"/>
<circle cx="415.70" cy="322.00" r="1.25" fill="#2a74b6"/>
<circle cx="407.30" cy="362.10" r="1.25" fill="#2a74b6"/>
<circle cx="414.40" cy="385.40" r="1.25" fill="#2a74b6"/>
<circle cx="400.50" cy="281.50" r="1.25" fill="#2a74b6"/>
<circle cx="457.70" cy="271.70" r="1.25" fill="#1f9e6e"/>
<circle cx="456.70" cy="278.70" r="1.25" fill="#1f9e6e"/>
<circle cx="446.00" cy="266.80" r="1.25" fill="#1f9e6e"/>
<circle cx="483.70" cy="269.80" r="1.25" fill="#d55e00"/>
<circle cx="493.50" cy="271.70" r="1.25" fill="#d55e00"/>
<circle cx="503.00" cy="279.70" r="1.25" fill="#d55e00"/>
<circle cx="497.90" cy="283.10" r="1.25" fill="#d55e00"/>
<circle cx="501.30" cy="288.20" r="1.25" fill="#d55e00"/>
<circle cx="502.30" cy="292.60" r="1.25" fill="#d55e00"/>
<circle cx="496.00" cy="302.40" r="1.25" fill="#d55e00"/>
<circle cx="499.40" cy="304.70" r="1.25" fill="#d55e00"/>
<circle cx="498.90" cy="331.30" r="1.25" fill="#d55e00"/>
<circle cx="492.40" cy="379.10" r="1.25" fill="#d55e00"/>
<circle cx="524.10" cy="265.20" r="1.25" fill="#56b4e9"/>
<circle cx="527.70" cy="265.80" r="1.25" fill="#56b4e9"/>
<circle cx="531.60" cy="266.80" r="1.25" fill="#56b4e9"/>
<circle cx="534.60" cy="265.20" r="1.25" fill="#56b4e9"/>
<circle cx="527.30" cy="267.20" r="1.25" fill="#56b4e9"/>
<circle cx="533.60" cy="268.80" r="1.25" fill="#56b4e9"/>
<circle cx="524.70" cy="270.40" r="1.25" fill="#56b4e9"/>
<circle cx="525.70" cy="273.70" r="1.25" fill="#56b4e9"/>
<circle cx="534.20" cy="271.80" r="1.25" fill="#56b4e9"/>
<circle cx="543.80" cy="275.70" r="1.25" fill="#56b4e9"/>
<circle cx="540.50" cy="277.30" r="1.25" fill="#56b4e9"/>
<circle cx="535.00" cy="280.60" r="1.25" fill="#56b4e9"/>
<circle cx="538.10" cy="284.20" r="1.25" fill="#56b4e9"/>
<circle cx="528.30" cy="288.90" r="1.25" fill="#56b4e9"/>
<circle cx="532.00" cy="295.80" r="1.25" fill="#56b4e9"/>
<circle cx="535.50" cy="296.40" r="1.25" fill="#56b4e9"/>
<circle cx="541.10" cy="294.80" r="1.25" fill="#56b4e9"/>
<circle cx="528.70" cy="305.30" r="1.25" fill="#56b4e9"/>
<circle cx="541.90" cy="312.70" r="1.25" fill="#56b4e9"/>
<circle cx="532.60" cy="316.70" r="1.25" fill="#56b4e9"/>
<circle cx="538.50" cy="317.50" r="1.25" fill="#56b4e9"/>
<circle cx="539.50" cy="324.40" r="1.25" fill="#56b4e9"/>
<circle cx="538.50" cy="325.40" r="1.25" fill="#56b4e9"/>
<circle cx="531.60" cy="328.50" r="1.25" fill="#56b4e9"/>
<circle cx="528.10" cy="440.40" r="1.25" fill="#56b4e9"/>
<circle cx="569.00" cy="272.70" r="1.25" fill="#858585"/>
<circle cx="575.00" cy="274.70" r="1.25" fill="#858585"/>
<circle cx="575.00" cy="276.70" r="1.25" fill="#858585"/>
<circle cx="580.90" cy="276.10" r="1.25" fill="#858585"/>
<circle cx="577.50" cy="280.20" r="1.25" fill="#858585"/>
<circle cx="571.00" cy="269.80" r="1.25" fill="#858585"/>
<circle cx="583.80" cy="270.40" r="1.25" fill="#858585"/>
<circle cx="609.50" cy="273.70" r="1.25" fill="#000000"/>
<circle cx="617.00" cy="274.10" r="1.25" fill="#000000"/>
<circle cx="619.70" cy="272.70" r="1.25" fill="#000000"/>
<circle cx="624.20" cy="271.40" r="1.25" fill="#000000"/>
<circle cx="617.00" cy="275.70" r="1.25" fill="#000000"/>
<circle cx="606.10" cy="284.20" r="1.25" fill="#000000"/>
<circle cx="612.40" cy="282.60" r="1.25" fill="#000000"/>
<circle cx="611.00" cy="295.80" r="1.25" fill="#000000"/>
<text transform="translate(366.00,353.30) rotate(-90)" font-size="8.3" fill="#000" stroke="#000" stroke-width="0.08" text-anchor="middle">Change in MAE (GDP)</text>
<text x="512.90" y="498.40" font-size="8.0" fill="#000" stroke="#000" stroke-width="0.08" text-anchor="middle" font-weight="normal" >Predictors</text>
<text transform="translate(364.10,494.70) scale(1.02,1)" font-size="17.5" fill="#ff0000" font-weight="bold">D</text>
<text x="649.40" y="323.40" font-size="6.5" fill="#1a1a1a" stroke="#1a1a1a" stroke-width="0.05" text-anchor="start" font-weight="normal" >Group</text>
<line x1="654.40" y1="328.20" x2="654.40" y2="329.70" stroke="#000000" stroke-width="0.8"/>
<line x1="654.40" y1="334.70" x2="654.40" y2="336.20" stroke="#000000" stroke-width="0.8"/>
<rect x="650.65" y="329.70" width="7.50" height="5.00" stroke="#000000" stroke-width="0.8" fill="none"/>
<line x1="650.65" y1="332.20" x2="658.15" y2="332.20" stroke="#000000" stroke-width="0.8"/>
<circle cx="654.40" cy="332.20" r="1.2" fill="#000000"/>
<text x="662.70" y="334.35" font-size="5.3" fill="#1a1a1a" stroke="#1a1a1a" stroke-width="0.06" text-anchor="start" font-weight="normal" >Coals</text>
<line x1="654.40" y1="338.20" x2="654.40" y2="339.70" stroke="#2a74b6" stroke-width="0.8"/>
<line x1="654.40" y1="344.70" x2="654.40" y2="346.20" stroke="#2a74b6" stroke-width="0.8"/>
<rect x="650.65" y="339.70" width="7.50" height="5.00" stroke="#2a74b6" stroke-width="0.8" fill="none"/>
<line x1="650.65" y1="342.20" x2="658.15" y2="342.20" stroke="#2a74b6" stroke-width="0.8"/>
<circle cx="654.40" cy="342.20" r="1.2" fill="#2a74b6"/>
<text x="662.70" y="344.35" font-size="5.3" fill="#1a1a1a" stroke="#1a1a1a" stroke-width="0.06" text-anchor="start" font-weight="normal" >Electricity</text>
<line x1="654.40" y1="348.20" x2="654.40" y2="349.70" stroke="#1f9e6e" stroke-width="0.8"/>
<line x1="654.40" y1="354.70" x2="654.40" y2="356.20" stroke="#1f9e6e" stroke-width="0.8"/>
<rect x="650.65" y="349.70" width="7.50" height="5.00" stroke="#1f9e6e" stroke-width="0.8" fill="none"/>
<line x1="650.65" y1="352.20" x2="658.15" y2="352.20" stroke="#1f9e6e" stroke-width="0.8"/>
<circle cx="654.40" cy="352.20" r="1.2" fill="#1f9e6e"/>
<text x="662.70" y="354.35" font-size="5.3" fill="#1a1a1a" stroke="#1a1a1a" stroke-width="0.06" text-anchor="start" font-weight="normal" >Forest</text>
<line x1="654.40" y1="358.20" x2="654.40" y2="359.70" stroke="#56b4e9" stroke-width="0.8"/>
<line x1="654.40" y1="364.70" x2="654.40" y2="366.20" stroke="#56b4e9" stroke-width="0.8"/>
<rect x="650.65" y="359.70" width="7.50" height="5.00" stroke="#56b4e9" stroke-width="0.8" fill="none"/>
<line x1="650.65" y1="362.20" x2="658.15" y2="362.20" stroke="#56b4e9" stroke-width="0.8"/>
<circle cx="654.40" cy="362.20" r="1.2" fill="#56b4e9"/>
<text x="662.70" y="364.35" font-size="5.3" fill="#1a1a1a" stroke="#1a1a1a" stroke-width="0.06" text-anchor="start" font-weight="normal" >Gases</text>
<line x1="654.40" y1="368.20" x2="654.40" y2="369.70" stroke="#d55e00" stroke-width="0.8"/>
<line x1="654.40" y1="374.70" x2="654.40" y2="376.20" stroke="#d55e00" stroke-width="0.8"/>
<rect x="650.65" y="369.70" width="7.50" height="5.00" stroke="#d55e00" stroke-width="0.8" fill="none"/>
<line x1="650.65" y1="372.20" x2="658.15" y2="372.20" stroke="#d55e00" stroke-width="0.8"/>
<circle cx="654.40" cy="372.20" r="1.2" fill="#d55e00"/>
<text x="662.70" y="374.35" font-size="5.3" fill="#1a1a1a" stroke="#1a1a1a" stroke-width="0.06" text-anchor="start" font-weight="normal" >Oils</text>
<line x1="654.40" y1="378.20" x2="654.40" y2="379.70" stroke="#858585" stroke-width="0.8"/>
<line x1="654.40" y1="384.70" x2="654.40" y2="386.20" stroke="#858585" stroke-width="0.8"/>
<rect x="650.65" y="379.70" width="7.50" height="5.00" stroke="#858585" stroke-width="0.8" fill="none"/>
<line x1="650.65" y1="382.20" x2="658.15" y2="382.20" stroke="#858585" stroke-width="0.8"/>
<circle cx="654.40" cy="382.20" r="1.2" fill="#858585"/>
<text x="662.70" y="384.35" font-size="5.3" fill="#1a1a1a" stroke="#1a1a1a" stroke-width="0.06" text-anchor="start" font-weight="normal" >Others</text>
</svg></body></html>
